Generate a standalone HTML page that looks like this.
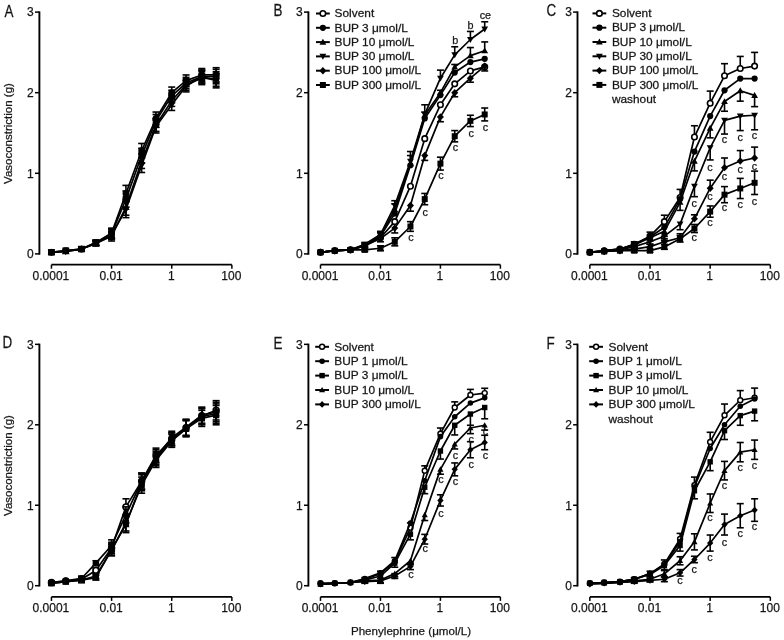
<!DOCTYPE html>
<html><head><meta charset="utf-8"><style>
html,body{margin:0;padding:0;background:#fff;}
svg{display:block;will-change:transform;}
text{font-family:"Liberation Sans",sans-serif;stroke:#222;stroke-width:0.25px;}
</style></head><body>
<svg width="784" height="640" viewBox="0 0 784 640">
<rect width="784" height="640" fill="#fff"/>
<path d="M39.4 11.4V254.7" stroke="#000" stroke-width="1.9" fill="none"/>
<path d="M35 253.9H39.4" stroke="#000" stroke-width="1.5"/>
<text x="33.8" y="258.2" font-size="12" text-anchor="end" fill="#111" >0</text>
<path d="M35 173.3H39.4" stroke="#000" stroke-width="1.5"/>
<text x="33.8" y="177.6" font-size="12" text-anchor="end" fill="#111" >1</text>
<path d="M35 92.7H39.4" stroke="#000" stroke-width="1.5"/>
<text x="33.8" y="97" font-size="12" text-anchor="end" fill="#111" >2</text>
<path d="M35 12.1H39.4" stroke="#000" stroke-width="1.5"/>
<text x="33.8" y="16.4" font-size="12" text-anchor="end" fill="#111" >3</text>
<path d="M51.45 264.7H231.87" stroke="#000" stroke-width="1.8"/>
<path d="M51.45 264.7V268.7" stroke="#000" stroke-width="1.5"/>
<text x="50.95" y="280.1" font-size="12" text-anchor="middle" fill="#111" >0.0001</text>
<path d="M111.59 264.7V268.7" stroke="#000" stroke-width="1.5"/>
<text x="111.09" y="280.1" font-size="12" text-anchor="middle" fill="#111" >0.01</text>
<path d="M171.73 264.7V268.7" stroke="#000" stroke-width="1.5"/>
<text x="171.23" y="280.1" font-size="12" text-anchor="middle" fill="#111" >1</text>
<path d="M231.87 264.7V268.7" stroke="#000" stroke-width="1.5"/>
<text x="231.37" y="280.1" font-size="12" text-anchor="middle" fill="#111" >100</text>
<text x="0" y="0" font-size="16" fill="#111" transform="translate(4.6 16.9) scale(0.84 1)">A</text>
<text x="0" y="0" font-size="11.5" text-anchor="middle" fill="#111" transform="translate(12.1 133.5) rotate(-90)">Vasoconstriction (g)</text>
<path d="M308.4 11.4V254.7" stroke="#000" stroke-width="1.9" fill="none"/>
<path d="M304 253.9H308.4" stroke="#000" stroke-width="1.5"/>
<text x="302.8" y="258.2" font-size="12" text-anchor="end" fill="#111" >0</text>
<path d="M304 173.3H308.4" stroke="#000" stroke-width="1.5"/>
<text x="302.8" y="177.6" font-size="12" text-anchor="end" fill="#111" >1</text>
<path d="M304 92.7H308.4" stroke="#000" stroke-width="1.5"/>
<text x="302.8" y="97" font-size="12" text-anchor="end" fill="#111" >2</text>
<path d="M304 12.1H308.4" stroke="#000" stroke-width="1.5"/>
<text x="302.8" y="16.4" font-size="12" text-anchor="end" fill="#111" >3</text>
<path d="M320.5 264.7H500.38" stroke="#000" stroke-width="1.8"/>
<path d="M320.5 264.7V268.7" stroke="#000" stroke-width="1.5"/>
<text x="320" y="280.1" font-size="12" text-anchor="middle" fill="#111" >0.0001</text>
<path d="M380.46 264.7V268.7" stroke="#000" stroke-width="1.5"/>
<text x="379.96" y="280.1" font-size="12" text-anchor="middle" fill="#111" >0.01</text>
<path d="M440.42 264.7V268.7" stroke="#000" stroke-width="1.5"/>
<text x="439.92" y="280.1" font-size="12" text-anchor="middle" fill="#111" >1</text>
<path d="M500.38 264.7V268.7" stroke="#000" stroke-width="1.5"/>
<text x="499.88" y="280.1" font-size="12" text-anchor="middle" fill="#111" >100</text>
<text x="0" y="0" font-size="16" fill="#111" transform="translate(273.6 15.9) scale(0.84 1)">B</text>
<path d="M577.5 11.4V254.7" stroke="#000" stroke-width="1.9" fill="none"/>
<path d="M573.1 253.9H577.5" stroke="#000" stroke-width="1.5"/>
<text x="571.9" y="258.2" font-size="12" text-anchor="end" fill="#111" >0</text>
<path d="M573.1 173.3H577.5" stroke="#000" stroke-width="1.5"/>
<text x="571.9" y="177.6" font-size="12" text-anchor="end" fill="#111" >1</text>
<path d="M573.1 92.7H577.5" stroke="#000" stroke-width="1.5"/>
<text x="571.9" y="97" font-size="12" text-anchor="end" fill="#111" >2</text>
<path d="M573.1 12.1H577.5" stroke="#000" stroke-width="1.5"/>
<text x="571.9" y="16.4" font-size="12" text-anchor="end" fill="#111" >3</text>
<path d="M589.85 264.7H770.33" stroke="#000" stroke-width="1.8"/>
<path d="M589.85 264.7V268.7" stroke="#000" stroke-width="1.5"/>
<text x="589.35" y="280.1" font-size="12" text-anchor="middle" fill="#111" >0.0001</text>
<path d="M650.01 264.7V268.7" stroke="#000" stroke-width="1.5"/>
<text x="649.51" y="280.1" font-size="12" text-anchor="middle" fill="#111" >0.01</text>
<path d="M710.17 264.7V268.7" stroke="#000" stroke-width="1.5"/>
<text x="709.67" y="280.1" font-size="12" text-anchor="middle" fill="#111" >1</text>
<path d="M770.33 264.7V268.7" stroke="#000" stroke-width="1.5"/>
<text x="769.83" y="280.1" font-size="12" text-anchor="middle" fill="#111" >100</text>
<text x="0" y="0" font-size="16" fill="#111" transform="translate(546.6 16) scale(0.84 1)">C</text>
<path d="M39.4 343.65V586.5" stroke="#000" stroke-width="1.9" fill="none"/>
<path d="M35 585.7H39.4" stroke="#000" stroke-width="1.5"/>
<text x="33.8" y="590" font-size="12" text-anchor="end" fill="#111" >0</text>
<path d="M35 505.25H39.4" stroke="#000" stroke-width="1.5"/>
<text x="33.8" y="509.55" font-size="12" text-anchor="end" fill="#111" >1</text>
<path d="M35 424.8H39.4" stroke="#000" stroke-width="1.5"/>
<text x="33.8" y="429.1" font-size="12" text-anchor="end" fill="#111" >2</text>
<path d="M35 344.35H39.4" stroke="#000" stroke-width="1.5"/>
<text x="33.8" y="348.65" font-size="12" text-anchor="end" fill="#111" >3</text>
<path d="M51.45 596.9H231.87" stroke="#000" stroke-width="1.8"/>
<path d="M51.45 596.9V600.9" stroke="#000" stroke-width="1.5"/>
<text x="50.95" y="612.3" font-size="12" text-anchor="middle" fill="#111" >0.0001</text>
<path d="M111.59 596.9V600.9" stroke="#000" stroke-width="1.5"/>
<text x="111.09" y="612.3" font-size="12" text-anchor="middle" fill="#111" >0.01</text>
<path d="M171.73 596.9V600.9" stroke="#000" stroke-width="1.5"/>
<text x="171.23" y="612.3" font-size="12" text-anchor="middle" fill="#111" >1</text>
<path d="M231.87 596.9V600.9" stroke="#000" stroke-width="1.5"/>
<text x="231.37" y="612.3" font-size="12" text-anchor="middle" fill="#111" >100</text>
<text x="0" y="0" font-size="16" fill="#111" transform="translate(2.5 348) scale(0.84 1)">D</text>
<text x="0" y="0" font-size="11.5" text-anchor="middle" fill="#111" transform="translate(12.1 465.53) rotate(-90)">Vasoconstriction (g)</text>
<path d="M308.4 343.65V586.5" stroke="#000" stroke-width="1.9" fill="none"/>
<path d="M304 585.7H308.4" stroke="#000" stroke-width="1.5"/>
<text x="302.8" y="590" font-size="12" text-anchor="end" fill="#111" >0</text>
<path d="M304 505.25H308.4" stroke="#000" stroke-width="1.5"/>
<text x="302.8" y="509.55" font-size="12" text-anchor="end" fill="#111" >1</text>
<path d="M304 424.8H308.4" stroke="#000" stroke-width="1.5"/>
<text x="302.8" y="429.1" font-size="12" text-anchor="end" fill="#111" >2</text>
<path d="M304 344.35H308.4" stroke="#000" stroke-width="1.5"/>
<text x="302.8" y="348.65" font-size="12" text-anchor="end" fill="#111" >3</text>
<path d="M320.5 596.9H500.38" stroke="#000" stroke-width="1.8"/>
<path d="M320.5 596.9V600.9" stroke="#000" stroke-width="1.5"/>
<text x="320" y="612.3" font-size="12" text-anchor="middle" fill="#111" >0.0001</text>
<path d="M380.46 596.9V600.9" stroke="#000" stroke-width="1.5"/>
<text x="379.96" y="612.3" font-size="12" text-anchor="middle" fill="#111" >0.01</text>
<path d="M440.42 596.9V600.9" stroke="#000" stroke-width="1.5"/>
<text x="439.92" y="612.3" font-size="12" text-anchor="middle" fill="#111" >1</text>
<path d="M500.38 596.9V600.9" stroke="#000" stroke-width="1.5"/>
<text x="499.88" y="612.3" font-size="12" text-anchor="middle" fill="#111" >100</text>
<text x="0" y="0" font-size="16" fill="#111" transform="translate(273.6 349) scale(0.84 1)">E</text>
<path d="M577.5 343.65V586.5" stroke="#000" stroke-width="1.9" fill="none"/>
<path d="M573.1 585.7H577.5" stroke="#000" stroke-width="1.5"/>
<text x="571.9" y="590" font-size="12" text-anchor="end" fill="#111" >0</text>
<path d="M573.1 505.25H577.5" stroke="#000" stroke-width="1.5"/>
<text x="571.9" y="509.55" font-size="12" text-anchor="end" fill="#111" >1</text>
<path d="M573.1 424.8H577.5" stroke="#000" stroke-width="1.5"/>
<text x="571.9" y="429.1" font-size="12" text-anchor="end" fill="#111" >2</text>
<path d="M573.1 344.35H577.5" stroke="#000" stroke-width="1.5"/>
<text x="571.9" y="348.65" font-size="12" text-anchor="end" fill="#111" >3</text>
<path d="M589.85 596.9H770.33" stroke="#000" stroke-width="1.8"/>
<path d="M589.85 596.9V600.9" stroke="#000" stroke-width="1.5"/>
<text x="589.35" y="612.3" font-size="12" text-anchor="middle" fill="#111" >0.0001</text>
<path d="M650.01 596.9V600.9" stroke="#000" stroke-width="1.5"/>
<text x="649.51" y="612.3" font-size="12" text-anchor="middle" fill="#111" >0.01</text>
<path d="M710.17 596.9V600.9" stroke="#000" stroke-width="1.5"/>
<text x="709.67" y="612.3" font-size="12" text-anchor="middle" fill="#111" >1</text>
<path d="M770.33 596.9V600.9" stroke="#000" stroke-width="1.5"/>
<text x="769.83" y="612.3" font-size="12" text-anchor="middle" fill="#111" >100</text>
<text x="0" y="0" font-size="16" fill="#111" transform="translate(546.4 349) scale(0.84 1)">F</text>
<path d="M51.45 252.29 L65.8 251.48 L81.52 249.06 L95.87 243.42 L111.59 234.56 L125.94 209.57 L141.66 165.24 L156.01 126.55 L171.73 104.79 L186.08 86.25 L201.8 76.58 L216.15 80.61" stroke="#000" stroke-width="1.7" fill="none" stroke-linejoin="round"/>
<path d="M81.52 247.45V250.68" stroke="#000" stroke-width="1.6"/>
<path d="M78.02 247.45H85.02" stroke="#000" stroke-width="1.6"/>
<path d="M78.02 250.68H85.02" stroke="#000" stroke-width="1.6"/>
<path d="M95.87 241V245.84" stroke="#000" stroke-width="1.6"/>
<path d="M92.37 241H99.37" stroke="#000" stroke-width="1.6"/>
<path d="M92.37 245.84H99.37" stroke="#000" stroke-width="1.6"/>
<path d="M111.59 229.72V239.39" stroke="#000" stroke-width="1.6"/>
<path d="M108.09 229.72H115.09" stroke="#000" stroke-width="1.6"/>
<path d="M108.09 239.39H115.09" stroke="#000" stroke-width="1.6"/>
<path d="M125.94 201.51V217.63" stroke="#000" stroke-width="1.6"/>
<path d="M122.44 201.51H129.44" stroke="#000" stroke-width="1.6"/>
<path d="M122.44 217.63H129.44" stroke="#000" stroke-width="1.6"/>
<path d="M141.66 157.99V172.49" stroke="#000" stroke-width="1.6"/>
<path d="M138.16 157.99H145.16" stroke="#000" stroke-width="1.6"/>
<path d="M138.16 172.49H145.16" stroke="#000" stroke-width="1.6"/>
<path d="M156.01 120.1V133" stroke="#000" stroke-width="1.6"/>
<path d="M152.51 120.1H159.51" stroke="#000" stroke-width="1.6"/>
<path d="M152.51 133H159.51" stroke="#000" stroke-width="1.6"/>
<path d="M171.73 99.15V110.43" stroke="#000" stroke-width="1.6"/>
<path d="M168.23 99.15H175.23" stroke="#000" stroke-width="1.6"/>
<path d="M168.23 110.43H175.23" stroke="#000" stroke-width="1.6"/>
<path d="M186.08 80.61V91.89" stroke="#000" stroke-width="1.6"/>
<path d="M182.58 80.61H189.58" stroke="#000" stroke-width="1.6"/>
<path d="M182.58 91.89H189.58" stroke="#000" stroke-width="1.6"/>
<path d="M201.8 70.13V83.03" stroke="#000" stroke-width="1.6"/>
<path d="M198.3 70.13H205.3" stroke="#000" stroke-width="1.6"/>
<path d="M198.3 83.03H205.3" stroke="#000" stroke-width="1.6"/>
<path d="M216.15 73.36V87.86" stroke="#000" stroke-width="1.6"/>
<path d="M212.65 73.36H219.65" stroke="#000" stroke-width="1.6"/>
<path d="M212.65 87.86H219.65" stroke="#000" stroke-width="1.6"/>
<path d="M51.45 256.03L55.19 249.48L47.71 249.48Z" fill="#000"/>
<path d="M65.8 255.22L69.54 248.68L62.06 248.68Z" fill="#000"/>
<path d="M81.52 252.8L85.26 246.26L77.78 246.26Z" fill="#000"/>
<path d="M95.87 247.16L99.61 240.62L92.13 240.62Z" fill="#000"/>
<path d="M111.59 238.3L115.33 231.75L107.85 231.75Z" fill="#000"/>
<path d="M125.94 213.31L129.68 206.76L122.2 206.76Z" fill="#000"/>
<path d="M141.66 168.98L145.4 162.44L137.92 162.44Z" fill="#000"/>
<path d="M156.01 130.29L159.75 123.75L152.27 123.75Z" fill="#000"/>
<path d="M171.73 108.53L175.47 101.99L167.99 101.99Z" fill="#000"/>
<path d="M186.08 89.99L189.82 83.45L182.34 83.45Z" fill="#000"/>
<path d="M201.8 80.32L205.54 73.78L198.06 73.78Z" fill="#000"/>
<path d="M216.15 84.35L219.89 77.81L212.41 77.81Z" fill="#000"/>
<path d="M51.45 252.29 L65.8 251.48 L81.52 249.06 L95.87 243.42 L111.59 236.17 L125.94 207.15 L141.66 161.21 L156.01 124.94 L171.73 100.76 L186.08 84.64 L201.8 78.19 L216.15 79" stroke="#000" stroke-width="1.7" fill="none" stroke-linejoin="round"/>
<path d="M81.52 247.45V250.68" stroke="#000" stroke-width="1.6"/>
<path d="M78.02 247.45H85.02" stroke="#000" stroke-width="1.6"/>
<path d="M78.02 250.68H85.02" stroke="#000" stroke-width="1.6"/>
<path d="M95.87 241V245.84" stroke="#000" stroke-width="1.6"/>
<path d="M92.37 241H99.37" stroke="#000" stroke-width="1.6"/>
<path d="M92.37 245.84H99.37" stroke="#000" stroke-width="1.6"/>
<path d="M111.59 231.33V241" stroke="#000" stroke-width="1.6"/>
<path d="M108.09 231.33H115.09" stroke="#000" stroke-width="1.6"/>
<path d="M108.09 241H115.09" stroke="#000" stroke-width="1.6"/>
<path d="M125.94 199.09V215.21" stroke="#000" stroke-width="1.6"/>
<path d="M122.44 199.09H129.44" stroke="#000" stroke-width="1.6"/>
<path d="M122.44 215.21H129.44" stroke="#000" stroke-width="1.6"/>
<path d="M141.66 153.96V168.46" stroke="#000" stroke-width="1.6"/>
<path d="M138.16 153.96H145.16" stroke="#000" stroke-width="1.6"/>
<path d="M138.16 168.46H145.16" stroke="#000" stroke-width="1.6"/>
<path d="M156.01 118.49V131.39" stroke="#000" stroke-width="1.6"/>
<path d="M152.51 118.49H159.51" stroke="#000" stroke-width="1.6"/>
<path d="M152.51 131.39H159.51" stroke="#000" stroke-width="1.6"/>
<path d="M171.73 95.12V106.4" stroke="#000" stroke-width="1.6"/>
<path d="M168.23 95.12H175.23" stroke="#000" stroke-width="1.6"/>
<path d="M168.23 106.4H175.23" stroke="#000" stroke-width="1.6"/>
<path d="M186.08 79V90.28" stroke="#000" stroke-width="1.6"/>
<path d="M182.58 79H189.58" stroke="#000" stroke-width="1.6"/>
<path d="M182.58 90.28H189.58" stroke="#000" stroke-width="1.6"/>
<path d="M201.8 71.74V84.64" stroke="#000" stroke-width="1.6"/>
<path d="M198.3 71.74H205.3" stroke="#000" stroke-width="1.6"/>
<path d="M198.3 84.64H205.3" stroke="#000" stroke-width="1.6"/>
<path d="M216.15 71.74V86.25" stroke="#000" stroke-width="1.6"/>
<path d="M212.65 71.74H219.65" stroke="#000" stroke-width="1.6"/>
<path d="M212.65 86.25H219.65" stroke="#000" stroke-width="1.6"/>
<path d="M51.45 248.55L55.19 255.09L47.71 255.09Z" fill="#000"/>
<path d="M65.8 247.74L69.54 254.29L62.06 254.29Z" fill="#000"/>
<path d="M81.52 245.32L85.26 251.87L77.78 251.87Z" fill="#000"/>
<path d="M95.87 239.68L99.61 246.23L92.13 246.23Z" fill="#000"/>
<path d="M111.59 232.43L115.33 238.97L107.85 238.97Z" fill="#000"/>
<path d="M125.94 203.41L129.68 209.96L122.2 209.96Z" fill="#000"/>
<path d="M141.66 157.47L145.4 164.02L137.92 164.02Z" fill="#000"/>
<path d="M156.01 121.2L159.75 127.75L152.27 127.75Z" fill="#000"/>
<path d="M171.73 97.02L175.47 103.57L167.99 103.57Z" fill="#000"/>
<path d="M186.08 80.9L189.82 87.45L182.34 87.45Z" fill="#000"/>
<path d="M201.8 74.45L205.54 81L198.06 81Z" fill="#000"/>
<path d="M216.15 75.26L219.89 81.8L212.41 81.8Z" fill="#000"/>
<path d="M51.45 252.29 L65.8 250.68 L81.52 249.06 L95.87 242.62 L111.59 233.75 L125.94 199.09 L141.66 155.57 L156.01 120.91 L171.73 95.92 L186.08 83.03 L201.8 76.58 L216.15 76.58" stroke="#000" stroke-width="1.7" fill="none" stroke-linejoin="round"/>
<path d="M81.52 247.45V250.68" stroke="#000" stroke-width="1.6"/>
<path d="M78.02 247.45H85.02" stroke="#000" stroke-width="1.6"/>
<path d="M78.02 250.68H85.02" stroke="#000" stroke-width="1.6"/>
<path d="M95.87 240.2V245.03" stroke="#000" stroke-width="1.6"/>
<path d="M92.37 240.2H99.37" stroke="#000" stroke-width="1.6"/>
<path d="M92.37 245.03H99.37" stroke="#000" stroke-width="1.6"/>
<path d="M111.59 228.91V238.59" stroke="#000" stroke-width="1.6"/>
<path d="M108.09 228.91H115.09" stroke="#000" stroke-width="1.6"/>
<path d="M108.09 238.59H115.09" stroke="#000" stroke-width="1.6"/>
<path d="M125.94 191.03V207.15" stroke="#000" stroke-width="1.6"/>
<path d="M122.44 191.03H129.44" stroke="#000" stroke-width="1.6"/>
<path d="M122.44 207.15H129.44" stroke="#000" stroke-width="1.6"/>
<path d="M141.66 148.31V162.82" stroke="#000" stroke-width="1.6"/>
<path d="M138.16 148.31H145.16" stroke="#000" stroke-width="1.6"/>
<path d="M138.16 162.82H145.16" stroke="#000" stroke-width="1.6"/>
<path d="M156.01 114.46V127.36" stroke="#000" stroke-width="1.6"/>
<path d="M152.51 114.46H159.51" stroke="#000" stroke-width="1.6"/>
<path d="M152.51 127.36H159.51" stroke="#000" stroke-width="1.6"/>
<path d="M171.73 90.28V101.57" stroke="#000" stroke-width="1.6"/>
<path d="M168.23 90.28H175.23" stroke="#000" stroke-width="1.6"/>
<path d="M168.23 101.57H175.23" stroke="#000" stroke-width="1.6"/>
<path d="M186.08 77.39V88.67" stroke="#000" stroke-width="1.6"/>
<path d="M182.58 77.39H189.58" stroke="#000" stroke-width="1.6"/>
<path d="M182.58 88.67H189.58" stroke="#000" stroke-width="1.6"/>
<path d="M201.8 70.13V83.03" stroke="#000" stroke-width="1.6"/>
<path d="M198.3 70.13H205.3" stroke="#000" stroke-width="1.6"/>
<path d="M198.3 83.03H205.3" stroke="#000" stroke-width="1.6"/>
<path d="M216.15 69.33V83.83" stroke="#000" stroke-width="1.6"/>
<path d="M212.65 69.33H219.65" stroke="#000" stroke-width="1.6"/>
<path d="M212.65 83.83H219.65" stroke="#000" stroke-width="1.6"/>
<rect x="48.15" y="248.99" width="6.6" height="6.6" fill="#000"/>
<rect x="62.5" y="247.38" width="6.6" height="6.6" fill="#000"/>
<rect x="78.22" y="245.76" width="6.6" height="6.6" fill="#000"/>
<rect x="92.57" y="239.32" width="6.6" height="6.6" fill="#000"/>
<rect x="108.29" y="230.45" width="6.6" height="6.6" fill="#000"/>
<rect x="122.64" y="195.79" width="6.6" height="6.6" fill="#000"/>
<rect x="138.36" y="152.27" width="6.6" height="6.6" fill="#000"/>
<rect x="152.71" y="117.61" width="6.6" height="6.6" fill="#000"/>
<rect x="168.43" y="92.62" width="6.6" height="6.6" fill="#000"/>
<rect x="182.78" y="79.73" width="6.6" height="6.6" fill="#000"/>
<rect x="198.5" y="73.28" width="6.6" height="6.6" fill="#000"/>
<rect x="212.85" y="73.28" width="6.6" height="6.6" fill="#000"/>
<path d="M51.45 252.29 L65.8 250.68 L81.52 249.06 L95.87 242.62 L111.59 232.94 L125.94 193.45 L141.66 150.73 L156.01 118.49 L171.73 92.7 L186.08 80.61 L201.8 74.97 L216.15 74.97" stroke="#000" stroke-width="1.7" fill="none" stroke-linejoin="round"/>
<path d="M81.52 247.45V250.68" stroke="#000" stroke-width="1.6"/>
<path d="M78.02 247.45H85.02" stroke="#000" stroke-width="1.6"/>
<path d="M78.02 250.68H85.02" stroke="#000" stroke-width="1.6"/>
<path d="M95.87 240.2V245.03" stroke="#000" stroke-width="1.6"/>
<path d="M92.37 240.2H99.37" stroke="#000" stroke-width="1.6"/>
<path d="M92.37 245.03H99.37" stroke="#000" stroke-width="1.6"/>
<path d="M111.59 228.11V237.78" stroke="#000" stroke-width="1.6"/>
<path d="M108.09 228.11H115.09" stroke="#000" stroke-width="1.6"/>
<path d="M108.09 237.78H115.09" stroke="#000" stroke-width="1.6"/>
<path d="M125.94 185.39V201.51" stroke="#000" stroke-width="1.6"/>
<path d="M122.44 185.39H129.44" stroke="#000" stroke-width="1.6"/>
<path d="M122.44 201.51H129.44" stroke="#000" stroke-width="1.6"/>
<path d="M141.66 143.48V157.99" stroke="#000" stroke-width="1.6"/>
<path d="M138.16 143.48H145.16" stroke="#000" stroke-width="1.6"/>
<path d="M138.16 157.99H145.16" stroke="#000" stroke-width="1.6"/>
<path d="M156.01 112.04V124.94" stroke="#000" stroke-width="1.6"/>
<path d="M152.51 112.04H159.51" stroke="#000" stroke-width="1.6"/>
<path d="M152.51 124.94H159.51" stroke="#000" stroke-width="1.6"/>
<path d="M171.73 87.06V98.34" stroke="#000" stroke-width="1.6"/>
<path d="M168.23 87.06H175.23" stroke="#000" stroke-width="1.6"/>
<path d="M168.23 98.34H175.23" stroke="#000" stroke-width="1.6"/>
<path d="M186.08 74.97V86.25" stroke="#000" stroke-width="1.6"/>
<path d="M182.58 74.97H189.58" stroke="#000" stroke-width="1.6"/>
<path d="M182.58 86.25H189.58" stroke="#000" stroke-width="1.6"/>
<path d="M201.8 68.52V81.42" stroke="#000" stroke-width="1.6"/>
<path d="M198.3 68.52H205.3" stroke="#000" stroke-width="1.6"/>
<path d="M198.3 81.42H205.3" stroke="#000" stroke-width="1.6"/>
<path d="M216.15 67.71V82.22" stroke="#000" stroke-width="1.6"/>
<path d="M212.65 67.71H219.65" stroke="#000" stroke-width="1.6"/>
<path d="M212.65 82.22H219.65" stroke="#000" stroke-width="1.6"/>
<circle cx="51.45" cy="252.29" r="3.41" fill="#000"/>
<circle cx="65.8" cy="250.68" r="3.41" fill="#000"/>
<circle cx="81.52" cy="249.06" r="3.41" fill="#000"/>
<circle cx="95.87" cy="242.62" r="3.41" fill="#000"/>
<circle cx="111.59" cy="232.94" r="3.41" fill="#000"/>
<circle cx="125.94" cy="193.45" r="3.41" fill="#000"/>
<circle cx="141.66" cy="150.73" r="3.41" fill="#000"/>
<circle cx="156.01" cy="118.49" r="3.41" fill="#000"/>
<circle cx="171.73" cy="92.7" r="3.41" fill="#000"/>
<circle cx="186.08" cy="80.61" r="3.41" fill="#000"/>
<circle cx="201.8" cy="74.97" r="3.41" fill="#000"/>
<circle cx="216.15" cy="74.97" r="3.41" fill="#000"/>
<path d="M320.5 252.29 L334.8 250.68 L350.48 249.87 L364.78 245.84 L380.46 237.78 L394.76 221.66 L410.44 186.2 L424.74 138.64 L440.42 104.79 L454.72 83.83 L470.4 70.94 L484.7 66.91" stroke="#000" stroke-width="1.7" fill="none" stroke-linejoin="round"/>
<circle cx="320.5" cy="252.29" r="2.75" fill="#fff" stroke="#000" stroke-width="1.6"/>
<circle cx="334.8" cy="250.68" r="2.75" fill="#fff" stroke="#000" stroke-width="1.6"/>
<circle cx="350.48" cy="249.87" r="2.75" fill="#fff" stroke="#000" stroke-width="1.6"/>
<circle cx="364.78" cy="245.84" r="2.75" fill="#fff" stroke="#000" stroke-width="1.6"/>
<circle cx="380.46" cy="237.78" r="2.75" fill="#fff" stroke="#000" stroke-width="1.6"/>
<circle cx="394.76" cy="221.66" r="2.75" fill="#fff" stroke="#000" stroke-width="1.6"/>
<circle cx="410.44" cy="186.2" r="2.75" fill="#fff" stroke="#000" stroke-width="1.6"/>
<circle cx="424.74" cy="138.64" r="2.75" fill="#fff" stroke="#000" stroke-width="1.6"/>
<circle cx="440.42" cy="104.79" r="2.75" fill="#fff" stroke="#000" stroke-width="1.6"/>
<circle cx="454.72" cy="83.83" r="2.75" fill="#fff" stroke="#000" stroke-width="1.6"/>
<circle cx="470.4" cy="70.94" r="2.75" fill="#fff" stroke="#000" stroke-width="1.6"/>
<circle cx="484.7" cy="66.91" r="2.75" fill="#fff" stroke="#000" stroke-width="1.6"/>
<path d="M320.5 252.29 L334.8 250.68 L350.48 249.87 L364.78 245.03 L380.46 236.17 L394.76 213.6 L410.44 165.24 L424.74 118.49 L440.42 95.12 L454.72 72.55 L470.4 62.07 L484.7 58.85" stroke="#000" stroke-width="1.7" fill="none" stroke-linejoin="round"/>
<circle cx="320.5" cy="252.29" r="3.1" fill="#000"/>
<circle cx="334.8" cy="250.68" r="3.1" fill="#000"/>
<circle cx="350.48" cy="249.87" r="3.1" fill="#000"/>
<circle cx="364.78" cy="245.03" r="3.1" fill="#000"/>
<circle cx="380.46" cy="236.17" r="3.1" fill="#000"/>
<circle cx="394.76" cy="213.6" r="3.1" fill="#000"/>
<circle cx="410.44" cy="165.24" r="3.1" fill="#000"/>
<circle cx="424.74" cy="118.49" r="3.1" fill="#000"/>
<circle cx="440.42" cy="95.12" r="3.1" fill="#000"/>
<circle cx="454.72" cy="72.55" r="3.1" fill="#000"/>
<circle cx="470.4" cy="62.07" r="3.1" fill="#000"/>
<circle cx="484.7" cy="58.85" r="3.1" fill="#000"/>
<path d="M320.5 252.29 L334.8 250.68 L350.48 249.87 L364.78 245.03 L380.46 236.17 L394.76 209.57 L410.44 163.63 L424.74 115.27 L440.42 92.7 L454.72 66.91 L470.4 55.62 L484.7 50.79" stroke="#000" stroke-width="1.7" fill="none" stroke-linejoin="round"/>
<path d="M364.78 243.42V245.03" stroke="#000" stroke-width="1.6"/>
<path d="M361.28 243.42H368.28" stroke="#000" stroke-width="1.6"/>
<path d="M380.46 232.94V236.17" stroke="#000" stroke-width="1.6"/>
<path d="M376.96 232.94H383.96" stroke="#000" stroke-width="1.6"/>
<path d="M394.76 203.93V209.57" stroke="#000" stroke-width="1.6"/>
<path d="M391.26 203.93H398.26" stroke="#000" stroke-width="1.6"/>
<path d="M410.44 155.57V163.63" stroke="#000" stroke-width="1.6"/>
<path d="M406.94 155.57H413.94" stroke="#000" stroke-width="1.6"/>
<path d="M424.74 112.04V115.27" stroke="#000" stroke-width="1.6"/>
<path d="M421.24 112.04H428.24" stroke="#000" stroke-width="1.6"/>
<path d="M440.42 90.28V92.7" stroke="#000" stroke-width="1.6"/>
<path d="M436.92 90.28H443.92" stroke="#000" stroke-width="1.6"/>
<path d="M454.72 64.49V66.91" stroke="#000" stroke-width="1.6"/>
<path d="M451.22 64.49H458.22" stroke="#000" stroke-width="1.6"/>
<path d="M470.4 47.56V55.62" stroke="#000" stroke-width="1.6"/>
<path d="M466.9 47.56H473.9" stroke="#000" stroke-width="1.6"/>
<path d="M484.7 41.92V50.79" stroke="#000" stroke-width="1.6"/>
<path d="M481.2 41.92H488.2" stroke="#000" stroke-width="1.6"/>
<path d="M320.5 248.89L323.9 254.84L317.1 254.84Z" fill="#000"/>
<path d="M334.8 247.28L338.2 253.23L331.4 253.23Z" fill="#000"/>
<path d="M350.48 246.47L353.88 252.42L347.08 252.42Z" fill="#000"/>
<path d="M364.78 241.63L368.18 247.58L361.38 247.58Z" fill="#000"/>
<path d="M380.46 232.77L383.86 238.72L377.06 238.72Z" fill="#000"/>
<path d="M394.76 206.17L398.16 212.12L391.36 212.12Z" fill="#000"/>
<path d="M410.44 160.23L413.84 166.18L407.04 166.18Z" fill="#000"/>
<path d="M424.74 111.87L428.14 117.82L421.34 117.82Z" fill="#000"/>
<path d="M440.42 89.3L443.82 95.25L437.02 95.25Z" fill="#000"/>
<path d="M454.72 63.51L458.12 69.46L451.32 69.46Z" fill="#000"/>
<path d="M470.4 52.22L473.8 58.17L467 58.17Z" fill="#000"/>
<path d="M484.7 47.39L488.1 53.34L481.3 53.34Z" fill="#000"/>
<path d="M320.5 252.29 L334.8 250.68 L350.48 249.87 L364.78 244.23 L380.46 234.56 L394.76 205.54 L410.44 161.21 L424.74 114.46 L440.42 78.19 L454.72 54.82 L470.4 39.5 L484.7 29.03" stroke="#000" stroke-width="1.7" fill="none" stroke-linejoin="round"/>
<path d="M364.78 242.62V244.23" stroke="#000" stroke-width="1.6"/>
<path d="M361.28 242.62H368.28" stroke="#000" stroke-width="1.6"/>
<path d="M380.46 231.33V234.56" stroke="#000" stroke-width="1.6"/>
<path d="M376.96 231.33H383.96" stroke="#000" stroke-width="1.6"/>
<path d="M394.76 200.7V205.54" stroke="#000" stroke-width="1.6"/>
<path d="M391.26 200.7H398.26" stroke="#000" stroke-width="1.6"/>
<path d="M410.44 151.54V161.21" stroke="#000" stroke-width="1.6"/>
<path d="M406.94 151.54H413.94" stroke="#000" stroke-width="1.6"/>
<path d="M424.74 104.79V114.46" stroke="#000" stroke-width="1.6"/>
<path d="M421.24 104.79H428.24" stroke="#000" stroke-width="1.6"/>
<path d="M440.42 70.13V78.19" stroke="#000" stroke-width="1.6"/>
<path d="M436.92 70.13H443.92" stroke="#000" stroke-width="1.6"/>
<path d="M454.72 46.76V54.82" stroke="#000" stroke-width="1.6"/>
<path d="M451.22 46.76H458.22" stroke="#000" stroke-width="1.6"/>
<path d="M470.4 31.44V39.5" stroke="#000" stroke-width="1.6"/>
<path d="M466.9 31.44H473.9" stroke="#000" stroke-width="1.6"/>
<path d="M484.7 21.77V29.03" stroke="#000" stroke-width="1.6"/>
<path d="M481.2 21.77H488.2" stroke="#000" stroke-width="1.6"/>
<path d="M320.5 255.69L323.9 249.74L317.1 249.74Z" fill="#000"/>
<path d="M334.8 254.08L338.2 248.13L331.4 248.13Z" fill="#000"/>
<path d="M350.48 253.27L353.88 247.32L347.08 247.32Z" fill="#000"/>
<path d="M364.78 247.63L368.18 241.68L361.38 241.68Z" fill="#000"/>
<path d="M380.46 237.96L383.86 232.01L377.06 232.01Z" fill="#000"/>
<path d="M394.76 208.94L398.16 202.99L391.36 202.99Z" fill="#000"/>
<path d="M410.44 164.61L413.84 158.66L407.04 158.66Z" fill="#000"/>
<path d="M424.74 117.86L428.14 111.91L421.34 111.91Z" fill="#000"/>
<path d="M440.42 81.59L443.82 75.64L437.02 75.64Z" fill="#000"/>
<path d="M454.72 58.22L458.12 52.27L451.32 52.27Z" fill="#000"/>
<path d="M470.4 42.9L473.8 36.95L467 36.95Z" fill="#000"/>
<path d="M484.7 32.43L488.1 26.48L481.3 26.48Z" fill="#000"/>
<path d="M320.5 252.29 L334.8 250.68 L350.48 249.87 L364.78 245.84 L380.46 238.59 L394.76 228.11 L410.44 205.54 L424.74 155.57 L440.42 116.88 L454.72 92.7 L470.4 78.19 L484.7 66.1" stroke="#000" stroke-width="1.7" fill="none" stroke-linejoin="round"/>
<path d="M364.78 245.84V247.45" stroke="#000" stroke-width="1.6"/>
<path d="M361.28 247.45H368.28" stroke="#000" stroke-width="1.6"/>
<path d="M380.46 238.59V241.81" stroke="#000" stroke-width="1.6"/>
<path d="M376.96 241.81H383.96" stroke="#000" stroke-width="1.6"/>
<path d="M394.76 228.11V232.94" stroke="#000" stroke-width="1.6"/>
<path d="M391.26 232.94H398.26" stroke="#000" stroke-width="1.6"/>
<path d="M410.44 205.54V211.18" stroke="#000" stroke-width="1.6"/>
<path d="M406.94 211.18H413.94" stroke="#000" stroke-width="1.6"/>
<path d="M424.74 155.57V160.4" stroke="#000" stroke-width="1.6"/>
<path d="M421.24 160.4H428.24" stroke="#000" stroke-width="1.6"/>
<path d="M440.42 116.88V121.72" stroke="#000" stroke-width="1.6"/>
<path d="M436.92 121.72H443.92" stroke="#000" stroke-width="1.6"/>
<path d="M454.72 92.7V96.73" stroke="#000" stroke-width="1.6"/>
<path d="M451.22 96.73H458.22" stroke="#000" stroke-width="1.6"/>
<path d="M470.4 78.19V82.22" stroke="#000" stroke-width="1.6"/>
<path d="M466.9 82.22H473.9" stroke="#000" stroke-width="1.6"/>
<path d="M484.7 66.1V70.94" stroke="#000" stroke-width="1.6"/>
<path d="M481.2 70.94H488.2" stroke="#000" stroke-width="1.6"/>
<path d="M320.5 248.59L324.01 252.29L320.5 255.99L316.99 252.29Z" fill="#000"/>
<path d="M334.8 246.98L338.32 250.68L334.8 254.38L331.29 250.68Z" fill="#000"/>
<path d="M350.48 246.17L354 249.87L350.48 253.57L346.97 249.87Z" fill="#000"/>
<path d="M364.78 242.14L368.3 245.84L364.78 249.54L361.27 245.84Z" fill="#000"/>
<path d="M380.46 234.89L383.97 238.59L380.46 242.29L376.94 238.59Z" fill="#000"/>
<path d="M394.76 224.41L398.28 228.11L394.76 231.81L391.25 228.11Z" fill="#000"/>
<path d="M410.44 201.84L413.95 205.54L410.44 209.24L406.93 205.54Z" fill="#000"/>
<path d="M424.74 151.87L428.26 155.57L424.74 159.27L421.23 155.57Z" fill="#000"/>
<path d="M440.42 113.18L443.94 116.88L440.42 120.58L436.91 116.88Z" fill="#000"/>
<path d="M454.72 89L458.24 92.7L454.72 96.4L451.21 92.7Z" fill="#000"/>
<path d="M470.4 74.49L473.91 78.19L470.4 81.89L466.88 78.19Z" fill="#000"/>
<path d="M484.7 62.4L488.22 66.1L484.7 69.8L481.19 66.1Z" fill="#000"/>
<path d="M320.5 252.29 L334.8 250.68 L350.48 249.87 L364.78 249.87 L380.46 248.26 L394.76 241.81 L410.44 226.5 L424.74 199.09 L440.42 163.63 L454.72 136.22 L470.4 120.91 L484.7 114.46" stroke="#000" stroke-width="1.7" fill="none" stroke-linejoin="round"/>
<path d="M364.78 248.26V251.48" stroke="#000" stroke-width="1.6"/>
<path d="M361.28 248.26H368.28" stroke="#000" stroke-width="1.6"/>
<path d="M361.28 251.48H368.28" stroke="#000" stroke-width="1.6"/>
<path d="M380.46 245.84V250.68" stroke="#000" stroke-width="1.6"/>
<path d="M376.96 245.84H383.96" stroke="#000" stroke-width="1.6"/>
<path d="M376.96 250.68H383.96" stroke="#000" stroke-width="1.6"/>
<path d="M394.76 237.78V245.84" stroke="#000" stroke-width="1.6"/>
<path d="M391.26 237.78H398.26" stroke="#000" stroke-width="1.6"/>
<path d="M391.26 245.84H398.26" stroke="#000" stroke-width="1.6"/>
<path d="M410.44 221.66V231.33" stroke="#000" stroke-width="1.6"/>
<path d="M406.94 221.66H413.94" stroke="#000" stroke-width="1.6"/>
<path d="M406.94 231.33H413.94" stroke="#000" stroke-width="1.6"/>
<path d="M424.74 193.45V204.73" stroke="#000" stroke-width="1.6"/>
<path d="M421.24 193.45H428.24" stroke="#000" stroke-width="1.6"/>
<path d="M421.24 204.73H428.24" stroke="#000" stroke-width="1.6"/>
<path d="M440.42 157.18V170.08" stroke="#000" stroke-width="1.6"/>
<path d="M436.92 157.18H443.92" stroke="#000" stroke-width="1.6"/>
<path d="M436.92 170.08H443.92" stroke="#000" stroke-width="1.6"/>
<path d="M454.72 130.58V141.87" stroke="#000" stroke-width="1.6"/>
<path d="M451.22 130.58H458.22" stroke="#000" stroke-width="1.6"/>
<path d="M451.22 141.87H458.22" stroke="#000" stroke-width="1.6"/>
<path d="M470.4 115.27V126.55" stroke="#000" stroke-width="1.6"/>
<path d="M466.9 115.27H473.9" stroke="#000" stroke-width="1.6"/>
<path d="M466.9 126.55H473.9" stroke="#000" stroke-width="1.6"/>
<path d="M484.7 108.01V120.91" stroke="#000" stroke-width="1.6"/>
<path d="M481.2 108.01H488.2" stroke="#000" stroke-width="1.6"/>
<path d="M481.2 120.91H488.2" stroke="#000" stroke-width="1.6"/>
<rect x="317.5" y="249.29" width="6" height="6" fill="#000"/>
<rect x="331.8" y="247.68" width="6" height="6" fill="#000"/>
<rect x="347.48" y="246.87" width="6" height="6" fill="#000"/>
<rect x="361.78" y="246.87" width="6" height="6" fill="#000"/>
<rect x="377.46" y="245.26" width="6" height="6" fill="#000"/>
<rect x="391.76" y="238.81" width="6" height="6" fill="#000"/>
<rect x="407.44" y="223.5" width="6" height="6" fill="#000"/>
<rect x="421.74" y="196.09" width="6" height="6" fill="#000"/>
<rect x="437.42" y="160.63" width="6" height="6" fill="#000"/>
<rect x="451.72" y="133.22" width="6" height="6" fill="#000"/>
<rect x="467.4" y="117.91" width="6" height="6" fill="#000"/>
<rect x="481.7" y="111.46" width="6" height="6" fill="#000"/>
<path d="M316 13.5H329.8" stroke="#000" stroke-width="2"/>
<circle cx="322.9" cy="13.5" r="2.75" fill="#fff" stroke="#000" stroke-width="1.6"/>
<text x="0" y="0" font-size="11" fill="#111" transform="translate(334.6 17.2) scale(1.08 1)">Solvent</text>
<path d="M316 27.8H329.8" stroke="#000" stroke-width="2"/>
<circle cx="322.9" cy="27.8" r="3.1" fill="#000"/>
<text x="0" y="0" font-size="11" fill="#111" transform="translate(334.6 31.5) scale(1.08 1)">BUP 3 μmol/L</text>
<path d="M316 42.1H329.8" stroke="#000" stroke-width="2"/>
<path d="M322.9 38.7L326.3 44.65L319.5 44.65Z" fill="#000"/>
<text x="0" y="0" font-size="11" fill="#111" transform="translate(334.6 45.8) scale(1.08 1)">BUP 10 μmol/L</text>
<path d="M316 56.4H329.8" stroke="#000" stroke-width="2"/>
<path d="M322.9 59.8L326.3 53.85L319.5 53.85Z" fill="#000"/>
<text x="0" y="0" font-size="11" fill="#111" transform="translate(334.6 60.1) scale(1.08 1)">BUP 30 μmol/L</text>
<path d="M316 70.7H329.8" stroke="#000" stroke-width="2"/>
<path d="M322.9 67L326.41 70.7L322.9 74.4L319.38 70.7Z" fill="#000"/>
<text x="0" y="0" font-size="11" fill="#111" transform="translate(334.6 74.4) scale(1.08 1)">BUP 100 μmol/L</text>
<path d="M316 85H329.8" stroke="#000" stroke-width="2"/>
<rect x="319.9" y="82" width="6" height="6" fill="#000"/>
<text x="0" y="0" font-size="11" fill="#111" transform="translate(334.6 88.7) scale(1.08 1)">BUP 300 μmol/L</text>
<text x="455.2" y="43.5" font-size="10.8" text-anchor="middle" fill="#111" >b</text>
<text x="470.6" y="29" font-size="10.8" text-anchor="middle" fill="#111" >b</text>
<text x="485.4" y="19" font-size="10.8" text-anchor="middle" fill="#111" >ce</text>
<text x="410.9" y="241" font-size="10.8" text-anchor="middle" fill="#111" >c</text>
<text x="425.3" y="215.5" font-size="10.8" text-anchor="middle" fill="#111" >c</text>
<text x="441" y="179" font-size="10.8" text-anchor="middle" fill="#111" >c</text>
<text x="455.4" y="151.2" font-size="10.8" text-anchor="middle" fill="#111" >c</text>
<text x="471.1" y="137.4" font-size="10.8" text-anchor="middle" fill="#111" >c</text>
<text x="485.5" y="130.5" font-size="10.8" text-anchor="middle" fill="#111" >c</text>
<path d="M589.85 252.29 L604.2 250.68 L619.93 249.06 L634.28 244.23 L650.01 236.17 L664.36 221.66 L680.09 197.48 L694.44 137.03 L710.17 103.18 L724.52 75.77 L740.25 68.52 L754.6 66.1" stroke="#000" stroke-width="1.7" fill="none" stroke-linejoin="round"/>
<path d="M634.28 241.81V244.23" stroke="#000" stroke-width="1.6"/>
<path d="M630.78 241.81H637.78" stroke="#000" stroke-width="1.6"/>
<path d="M650.01 232.14V236.17" stroke="#000" stroke-width="1.6"/>
<path d="M646.51 232.14H653.51" stroke="#000" stroke-width="1.6"/>
<path d="M664.36 215.21V221.66" stroke="#000" stroke-width="1.6"/>
<path d="M660.86 215.21H667.86" stroke="#000" stroke-width="1.6"/>
<path d="M680.09 189.42V197.48" stroke="#000" stroke-width="1.6"/>
<path d="M676.59 189.42H683.59" stroke="#000" stroke-width="1.6"/>
<path d="M694.44 125.75V137.03" stroke="#000" stroke-width="1.6"/>
<path d="M690.94 125.75H697.94" stroke="#000" stroke-width="1.6"/>
<path d="M710.17 91.09V103.18" stroke="#000" stroke-width="1.6"/>
<path d="M706.67 91.09H713.67" stroke="#000" stroke-width="1.6"/>
<path d="M724.52 63.68V75.77" stroke="#000" stroke-width="1.6"/>
<path d="M721.02 63.68H728.02" stroke="#000" stroke-width="1.6"/>
<path d="M740.25 56.43V68.52" stroke="#000" stroke-width="1.6"/>
<path d="M736.75 56.43H743.75" stroke="#000" stroke-width="1.6"/>
<path d="M754.6 52.4V66.1" stroke="#000" stroke-width="1.6"/>
<path d="M751.1 52.4H758.1" stroke="#000" stroke-width="1.6"/>
<circle cx="589.85" cy="252.29" r="2.75" fill="#fff" stroke="#000" stroke-width="1.6"/>
<circle cx="604.2" cy="250.68" r="2.75" fill="#fff" stroke="#000" stroke-width="1.6"/>
<circle cx="619.93" cy="249.06" r="2.75" fill="#fff" stroke="#000" stroke-width="1.6"/>
<circle cx="634.28" cy="244.23" r="2.75" fill="#fff" stroke="#000" stroke-width="1.6"/>
<circle cx="650.01" cy="236.17" r="2.75" fill="#fff" stroke="#000" stroke-width="1.6"/>
<circle cx="664.36" cy="221.66" r="2.75" fill="#fff" stroke="#000" stroke-width="1.6"/>
<circle cx="680.09" cy="197.48" r="2.75" fill="#fff" stroke="#000" stroke-width="1.6"/>
<circle cx="694.44" cy="137.03" r="2.75" fill="#fff" stroke="#000" stroke-width="1.6"/>
<circle cx="710.17" cy="103.18" r="2.75" fill="#fff" stroke="#000" stroke-width="1.6"/>
<circle cx="724.52" cy="75.77" r="2.75" fill="#fff" stroke="#000" stroke-width="1.6"/>
<circle cx="740.25" cy="68.52" r="2.75" fill="#fff" stroke="#000" stroke-width="1.6"/>
<circle cx="754.6" cy="66.1" r="2.75" fill="#fff" stroke="#000" stroke-width="1.6"/>
<path d="M589.85 252.29 L604.2 250.68 L619.93 249.06 L634.28 244.23 L650.01 236.97 L664.36 227.3 L680.09 199.09 L694.44 151.54 L710.17 116.07 L724.52 90.28 L740.25 78.6 L754.6 78.6" stroke="#000" stroke-width="1.7" fill="none" stroke-linejoin="round"/>
<circle cx="589.85" cy="252.29" r="3.1" fill="#000"/>
<circle cx="604.2" cy="250.68" r="3.1" fill="#000"/>
<circle cx="619.93" cy="249.06" r="3.1" fill="#000"/>
<circle cx="634.28" cy="244.23" r="3.1" fill="#000"/>
<circle cx="650.01" cy="236.97" r="3.1" fill="#000"/>
<circle cx="664.36" cy="227.3" r="3.1" fill="#000"/>
<circle cx="680.09" cy="199.09" r="3.1" fill="#000"/>
<circle cx="694.44" cy="151.54" r="3.1" fill="#000"/>
<circle cx="710.17" cy="116.07" r="3.1" fill="#000"/>
<circle cx="724.52" cy="90.28" r="3.1" fill="#000"/>
<circle cx="740.25" cy="78.6" r="3.1" fill="#000"/>
<circle cx="754.6" cy="78.6" r="3.1" fill="#000"/>
<path d="M589.85 252.29 L604.2 250.68 L619.93 249.06 L634.28 245.03 L650.01 237.78 L664.36 231.33 L680.09 202.32 L694.44 161.21 L710.17 128.16 L724.52 101.57 L740.25 90.69 L754.6 95.36" stroke="#000" stroke-width="1.7" fill="none" stroke-linejoin="round"/>
<path d="M634.28 245.03V246.65" stroke="#000" stroke-width="1.6"/>
<path d="M630.78 246.65H637.78" stroke="#000" stroke-width="1.6"/>
<path d="M650.01 237.78V241" stroke="#000" stroke-width="1.6"/>
<path d="M646.51 241H653.51" stroke="#000" stroke-width="1.6"/>
<path d="M664.36 231.33V236.17" stroke="#000" stroke-width="1.6"/>
<path d="M660.86 236.17H667.86" stroke="#000" stroke-width="1.6"/>
<path d="M680.09 202.32V210.38" stroke="#000" stroke-width="1.6"/>
<path d="M676.59 210.38H683.59" stroke="#000" stroke-width="1.6"/>
<path d="M694.44 161.21V170.88" stroke="#000" stroke-width="1.6"/>
<path d="M690.94 170.88H697.94" stroke="#000" stroke-width="1.6"/>
<path d="M710.17 128.16V137.84" stroke="#000" stroke-width="1.6"/>
<path d="M706.67 137.84H713.67" stroke="#000" stroke-width="1.6"/>
<path d="M724.52 101.57V111.24" stroke="#000" stroke-width="1.6"/>
<path d="M721.02 111.24H728.02" stroke="#000" stroke-width="1.6"/>
<path d="M740.25 90.69V101.16" stroke="#000" stroke-width="1.6"/>
<path d="M736.75 101.16H743.75" stroke="#000" stroke-width="1.6"/>
<path d="M754.6 95.36V106.64" stroke="#000" stroke-width="1.6"/>
<path d="M751.1 106.64H758.1" stroke="#000" stroke-width="1.6"/>
<path d="M589.85 248.89L593.25 254.84L586.45 254.84Z" fill="#000"/>
<path d="M604.2 247.28L607.6 253.23L600.8 253.23Z" fill="#000"/>
<path d="M619.93 245.66L623.33 251.61L616.53 251.61Z" fill="#000"/>
<path d="M634.28 241.63L637.68 247.58L630.88 247.58Z" fill="#000"/>
<path d="M650.01 234.38L653.41 240.33L646.61 240.33Z" fill="#000"/>
<path d="M664.36 227.93L667.76 233.88L660.96 233.88Z" fill="#000"/>
<path d="M680.09 198.92L683.49 204.87L676.69 204.87Z" fill="#000"/>
<path d="M694.44 157.81L697.84 163.76L691.04 163.76Z" fill="#000"/>
<path d="M710.17 124.76L713.57 130.71L706.77 130.71Z" fill="#000"/>
<path d="M724.52 98.17L727.92 104.12L721.12 104.12Z" fill="#000"/>
<path d="M740.25 87.29L743.65 93.24L736.85 93.24Z" fill="#000"/>
<path d="M754.6 91.96L758 97.91L751.2 97.91Z" fill="#000"/>
<path d="M589.85 252.29 L604.2 251.48 L619.93 249.87 L634.28 246.65 L650.01 241.81 L664.36 236.17 L680.09 224.08 L694.44 186.2 L710.17 147.83 L724.52 120.35 L740.25 116.07 L754.6 115.27" stroke="#000" stroke-width="1.7" fill="none" stroke-linejoin="round"/>
<path d="M634.28 246.65V248.26" stroke="#000" stroke-width="1.6"/>
<path d="M630.78 248.26H637.78" stroke="#000" stroke-width="1.6"/>
<path d="M650.01 241.81V244.23" stroke="#000" stroke-width="1.6"/>
<path d="M646.51 244.23H653.51" stroke="#000" stroke-width="1.6"/>
<path d="M664.36 236.17V240.2" stroke="#000" stroke-width="1.6"/>
<path d="M660.86 240.2H667.86" stroke="#000" stroke-width="1.6"/>
<path d="M680.09 224.08V229.72" stroke="#000" stroke-width="1.6"/>
<path d="M676.59 229.72H683.59" stroke="#000" stroke-width="1.6"/>
<path d="M694.44 186.2V196.67" stroke="#000" stroke-width="1.6"/>
<path d="M690.94 196.67H697.94" stroke="#000" stroke-width="1.6"/>
<path d="M710.17 147.83V159.92" stroke="#000" stroke-width="1.6"/>
<path d="M706.67 159.92H713.67" stroke="#000" stroke-width="1.6"/>
<path d="M724.52 120.35V134.05" stroke="#000" stroke-width="1.6"/>
<path d="M721.02 134.05H728.02" stroke="#000" stroke-width="1.6"/>
<path d="M740.25 116.07V130.58" stroke="#000" stroke-width="1.6"/>
<path d="M736.75 130.58H743.75" stroke="#000" stroke-width="1.6"/>
<path d="M754.6 115.27V129.78" stroke="#000" stroke-width="1.6"/>
<path d="M751.1 129.78H758.1" stroke="#000" stroke-width="1.6"/>
<path d="M589.85 255.69L593.25 249.74L586.45 249.74Z" fill="#000"/>
<path d="M604.2 254.88L607.6 248.93L600.8 248.93Z" fill="#000"/>
<path d="M619.93 253.27L623.33 247.32L616.53 247.32Z" fill="#000"/>
<path d="M634.28 250.05L637.68 244.1L630.88 244.1Z" fill="#000"/>
<path d="M650.01 245.21L653.41 239.26L646.61 239.26Z" fill="#000"/>
<path d="M664.36 239.57L667.76 233.62L660.96 233.62Z" fill="#000"/>
<path d="M680.09 227.48L683.49 221.53L676.69 221.53Z" fill="#000"/>
<path d="M694.44 189.6L697.84 183.65L691.04 183.65Z" fill="#000"/>
<path d="M710.17 151.23L713.57 145.28L706.77 145.28Z" fill="#000"/>
<path d="M724.52 123.75L727.92 117.8L721.12 117.8Z" fill="#000"/>
<path d="M740.25 119.47L743.65 113.52L736.85 113.52Z" fill="#000"/>
<path d="M754.6 118.67L758 112.72L751.2 112.72Z" fill="#000"/>
<path d="M589.85 252.29 L604.2 251.48 L619.93 250.68 L634.28 249.06 L650.01 246.65 L664.36 241.81 L680.09 237.78 L694.44 218.84 L710.17 188.21 L724.52 167.66 L740.25 161.05 L754.6 157.99" stroke="#000" stroke-width="1.7" fill="none" stroke-linejoin="round"/>
<path d="M634.28 247.45V249.06" stroke="#000" stroke-width="1.6"/>
<path d="M630.78 247.45H637.78" stroke="#000" stroke-width="1.6"/>
<path d="M650.01 244.23V246.65" stroke="#000" stroke-width="1.6"/>
<path d="M646.51 244.23H653.51" stroke="#000" stroke-width="1.6"/>
<path d="M664.36 238.59V241.81" stroke="#000" stroke-width="1.6"/>
<path d="M660.86 238.59H667.86" stroke="#000" stroke-width="1.6"/>
<path d="M680.09 233.75V237.78" stroke="#000" stroke-width="1.6"/>
<path d="M676.59 233.75H683.59" stroke="#000" stroke-width="1.6"/>
<path d="M694.44 214.81V218.84" stroke="#000" stroke-width="1.6"/>
<path d="M690.94 214.81H697.94" stroke="#000" stroke-width="1.6"/>
<path d="M710.17 180.15V188.21" stroke="#000" stroke-width="1.6"/>
<path d="M706.67 180.15H713.67" stroke="#000" stroke-width="1.6"/>
<path d="M724.52 157.99V167.66" stroke="#000" stroke-width="1.6"/>
<path d="M721.02 157.99H728.02" stroke="#000" stroke-width="1.6"/>
<path d="M740.25 150.57V161.05" stroke="#000" stroke-width="1.6"/>
<path d="M736.75 150.57H743.75" stroke="#000" stroke-width="1.6"/>
<path d="M754.6 147.11V157.99" stroke="#000" stroke-width="1.6"/>
<path d="M751.1 147.11H758.1" stroke="#000" stroke-width="1.6"/>
<path d="M589.85 248.59L593.37 252.29L589.85 255.99L586.34 252.29Z" fill="#000"/>
<path d="M604.2 247.78L607.72 251.48L604.2 255.18L600.69 251.48Z" fill="#000"/>
<path d="M619.93 246.98L623.45 250.68L619.93 254.38L616.42 250.68Z" fill="#000"/>
<path d="M634.28 245.36L637.8 249.06L634.28 252.76L630.77 249.06Z" fill="#000"/>
<path d="M650.01 242.95L653.52 246.65L650.01 250.35L646.5 246.65Z" fill="#000"/>
<path d="M664.36 238.11L667.88 241.81L664.36 245.51L660.85 241.81Z" fill="#000"/>
<path d="M680.09 234.08L683.61 237.78L680.09 241.48L676.58 237.78Z" fill="#000"/>
<path d="M694.44 215.14L697.96 218.84L694.44 222.54L690.93 218.84Z" fill="#000"/>
<path d="M710.17 184.51L713.69 188.21L710.17 191.91L706.66 188.21Z" fill="#000"/>
<path d="M724.52 163.96L728.04 167.66L724.52 171.36L721.01 167.66Z" fill="#000"/>
<path d="M740.25 157.35L743.76 161.05L740.25 164.75L736.74 161.05Z" fill="#000"/>
<path d="M754.6 154.29L758.12 157.99L754.6 161.69L751.09 157.99Z" fill="#000"/>
<path d="M589.85 252.29 L604.2 251.48 L619.93 250.68 L634.28 250.68 L650.01 250.68 L664.36 246.89 L680.09 238.83 L694.44 228.51 L710.17 211.59 L724.52 194.66 L740.25 188.45 L754.6 182.81" stroke="#000" stroke-width="1.7" fill="none" stroke-linejoin="round"/>
<path d="M634.28 249.06V252.29" stroke="#000" stroke-width="1.6"/>
<path d="M630.78 249.06H637.78" stroke="#000" stroke-width="1.6"/>
<path d="M630.78 252.29H637.78" stroke="#000" stroke-width="1.6"/>
<path d="M650.01 249.06V252.29" stroke="#000" stroke-width="1.6"/>
<path d="M646.51 249.06H653.51" stroke="#000" stroke-width="1.6"/>
<path d="M646.51 252.29H653.51" stroke="#000" stroke-width="1.6"/>
<path d="M664.36 244.47V249.31" stroke="#000" stroke-width="1.6"/>
<path d="M660.86 244.47H667.86" stroke="#000" stroke-width="1.6"/>
<path d="M660.86 249.31H667.86" stroke="#000" stroke-width="1.6"/>
<path d="M680.09 235.6V242.05" stroke="#000" stroke-width="1.6"/>
<path d="M676.59 235.6H683.59" stroke="#000" stroke-width="1.6"/>
<path d="M676.59 242.05H683.59" stroke="#000" stroke-width="1.6"/>
<path d="M694.44 224.48V232.54" stroke="#000" stroke-width="1.6"/>
<path d="M690.94 224.48H697.94" stroke="#000" stroke-width="1.6"/>
<path d="M690.94 232.54H697.94" stroke="#000" stroke-width="1.6"/>
<path d="M710.17 205.94V217.23" stroke="#000" stroke-width="1.6"/>
<path d="M706.67 205.94H713.67" stroke="#000" stroke-width="1.6"/>
<path d="M706.67 217.23H713.67" stroke="#000" stroke-width="1.6"/>
<path d="M724.52 186.6V202.72" stroke="#000" stroke-width="1.6"/>
<path d="M721.02 186.6H728.02" stroke="#000" stroke-width="1.6"/>
<path d="M721.02 202.72H728.02" stroke="#000" stroke-width="1.6"/>
<path d="M740.25 178.38V198.53" stroke="#000" stroke-width="1.6"/>
<path d="M736.75 178.38H743.75" stroke="#000" stroke-width="1.6"/>
<path d="M736.75 198.53H743.75" stroke="#000" stroke-width="1.6"/>
<path d="M754.6 171.12V194.5" stroke="#000" stroke-width="1.6"/>
<path d="M751.1 171.12H758.1" stroke="#000" stroke-width="1.6"/>
<path d="M751.1 194.5H758.1" stroke="#000" stroke-width="1.6"/>
<rect x="586.85" y="249.29" width="6" height="6" fill="#000"/>
<rect x="601.2" y="248.48" width="6" height="6" fill="#000"/>
<rect x="616.93" y="247.68" width="6" height="6" fill="#000"/>
<rect x="631.28" y="247.68" width="6" height="6" fill="#000"/>
<rect x="647.01" y="247.68" width="6" height="6" fill="#000"/>
<rect x="661.36" y="243.89" width="6" height="6" fill="#000"/>
<rect x="677.09" y="235.83" width="6" height="6" fill="#000"/>
<rect x="691.44" y="225.51" width="6" height="6" fill="#000"/>
<rect x="707.17" y="208.59" width="6" height="6" fill="#000"/>
<rect x="721.52" y="191.66" width="6" height="6" fill="#000"/>
<rect x="737.25" y="185.45" width="6" height="6" fill="#000"/>
<rect x="751.6" y="179.81" width="6" height="6" fill="#000"/>
<path d="M592.5 13.4H606.3" stroke="#000" stroke-width="2"/>
<circle cx="599.4" cy="13.4" r="2.75" fill="#fff" stroke="#000" stroke-width="1.6"/>
<text x="0" y="0" font-size="11" fill="#111" transform="translate(611.9 17.1) scale(1.08 1)">Solvent</text>
<path d="M592.5 27.7H606.3" stroke="#000" stroke-width="2"/>
<circle cx="599.4" cy="27.7" r="3.1" fill="#000"/>
<text x="0" y="0" font-size="11" fill="#111" transform="translate(611.9 31.4) scale(1.08 1)">BUP 3 μmol/L</text>
<path d="M592.5 42H606.3" stroke="#000" stroke-width="2"/>
<path d="M599.4 38.6L602.8 44.55L596 44.55Z" fill="#000"/>
<text x="0" y="0" font-size="11" fill="#111" transform="translate(611.9 45.7) scale(1.08 1)">BUP 10 μmol/L</text>
<path d="M592.5 56.3H606.3" stroke="#000" stroke-width="2"/>
<path d="M599.4 59.7L602.8 53.75L596 53.75Z" fill="#000"/>
<text x="0" y="0" font-size="11" fill="#111" transform="translate(611.9 60) scale(1.08 1)">BUP 30 μmol/L</text>
<path d="M592.5 70.6H606.3" stroke="#000" stroke-width="2"/>
<path d="M599.4 66.9L602.91 70.6L599.4 74.3L595.88 70.6Z" fill="#000"/>
<text x="0" y="0" font-size="11" fill="#111" transform="translate(611.9 74.3) scale(1.08 1)">BUP 100 μmol/L</text>
<path d="M592.5 84.9H606.3" stroke="#000" stroke-width="2"/>
<rect x="596.4" y="81.9" width="6" height="6" fill="#000"/>
<text x="0" y="0" font-size="11" fill="#111" transform="translate(611.9 88.6) scale(1.08 1)">BUP 300 μmol/L</text>
<text x="0" y="0" font-size="11" fill="#111" transform="translate(611.9 102.9) scale(1.08 1)">washout</text>
<text x="694.3" y="207" font-size="10.8" text-anchor="middle" fill="#111" >c</text>
<text x="710" y="170.5" font-size="10.8" text-anchor="middle" fill="#111" >c</text>
<text x="724.4" y="143" font-size="10.8" text-anchor="middle" fill="#111" >c</text>
<text x="740.1" y="141" font-size="10.8" text-anchor="middle" fill="#111" >c</text>
<text x="754.5" y="139" font-size="10.8" text-anchor="middle" fill="#111" >c</text>
<text x="710" y="199.5" font-size="10.8" text-anchor="middle" fill="#111" >c</text>
<text x="724.4" y="180" font-size="10.8" text-anchor="middle" fill="#111" >c</text>
<text x="740.1" y="172.5" font-size="10.8" text-anchor="middle" fill="#111" >c</text>
<text x="754.5" y="169.5" font-size="10.8" text-anchor="middle" fill="#111" >c</text>
<text x="694.3" y="241" font-size="10.8" text-anchor="middle" fill="#111" >c</text>
<text x="710" y="226" font-size="10.8" text-anchor="middle" fill="#111" >c</text>
<text x="724.4" y="211" font-size="10.8" text-anchor="middle" fill="#111" >c</text>
<text x="740.1" y="208" font-size="10.8" text-anchor="middle" fill="#111" >c</text>
<text x="754.5" y="204.5" font-size="10.8" text-anchor="middle" fill="#111" >c</text>
<path d="M51.45 582.48 L65.8 580.87 L81.52 579.26 L95.87 570.41 L111.59 547.89 L125.94 506.86 L141.66 481.12 L156.01 455.37 L171.73 439.28 L186.08 428.02 L201.8 415.95 L216.15 410.32" stroke="#000" stroke-width="1.7" fill="none" stroke-linejoin="round"/>
<path d="M81.52 576.85V581.68" stroke="#000" stroke-width="1.6"/>
<path d="M78.02 576.85H85.02" stroke="#000" stroke-width="1.6"/>
<path d="M78.02 581.68H85.02" stroke="#000" stroke-width="1.6"/>
<path d="M95.87 568V572.83" stroke="#000" stroke-width="1.6"/>
<path d="M92.37 568H99.37" stroke="#000" stroke-width="1.6"/>
<path d="M92.37 572.83H99.37" stroke="#000" stroke-width="1.6"/>
<path d="M111.59 542.26V553.52" stroke="#000" stroke-width="1.6"/>
<path d="M108.09 542.26H115.09" stroke="#000" stroke-width="1.6"/>
<path d="M108.09 553.52H115.09" stroke="#000" stroke-width="1.6"/>
<path d="M125.94 498.81V514.9" stroke="#000" stroke-width="1.6"/>
<path d="M122.44 498.81H129.44" stroke="#000" stroke-width="1.6"/>
<path d="M122.44 514.9H129.44" stroke="#000" stroke-width="1.6"/>
<path d="M141.66 473.07V489.16" stroke="#000" stroke-width="1.6"/>
<path d="M138.16 473.07H145.16" stroke="#000" stroke-width="1.6"/>
<path d="M138.16 489.16H145.16" stroke="#000" stroke-width="1.6"/>
<path d="M156.01 448.13V462.61" stroke="#000" stroke-width="1.6"/>
<path d="M152.51 448.13H159.51" stroke="#000" stroke-width="1.6"/>
<path d="M152.51 462.61H159.51" stroke="#000" stroke-width="1.6"/>
<path d="M171.73 432.85V445.72" stroke="#000" stroke-width="1.6"/>
<path d="M168.23 432.85H175.23" stroke="#000" stroke-width="1.6"/>
<path d="M168.23 445.72H175.23" stroke="#000" stroke-width="1.6"/>
<path d="M186.08 419.97V436.06" stroke="#000" stroke-width="1.6"/>
<path d="M182.58 419.97H189.58" stroke="#000" stroke-width="1.6"/>
<path d="M182.58 436.06H189.58" stroke="#000" stroke-width="1.6"/>
<path d="M201.8 407.91V424" stroke="#000" stroke-width="1.6"/>
<path d="M198.3 407.91H205.3" stroke="#000" stroke-width="1.6"/>
<path d="M198.3 424H205.3" stroke="#000" stroke-width="1.6"/>
<path d="M216.15 400.67V419.97" stroke="#000" stroke-width="1.6"/>
<path d="M212.65 400.67H219.65" stroke="#000" stroke-width="1.6"/>
<path d="M212.65 419.97H219.65" stroke="#000" stroke-width="1.6"/>
<circle cx="51.45" cy="582.48" r="2.89" fill="#fff" stroke="#000" stroke-width="1.68"/>
<circle cx="65.8" cy="580.87" r="2.89" fill="#fff" stroke="#000" stroke-width="1.68"/>
<circle cx="81.52" cy="579.26" r="2.89" fill="#fff" stroke="#000" stroke-width="1.68"/>
<circle cx="95.87" cy="570.41" r="2.89" fill="#fff" stroke="#000" stroke-width="1.68"/>
<circle cx="111.59" cy="547.89" r="2.89" fill="#fff" stroke="#000" stroke-width="1.68"/>
<circle cx="125.94" cy="506.86" r="2.89" fill="#fff" stroke="#000" stroke-width="1.68"/>
<circle cx="141.66" cy="481.12" r="2.89" fill="#fff" stroke="#000" stroke-width="1.68"/>
<circle cx="156.01" cy="455.37" r="2.89" fill="#fff" stroke="#000" stroke-width="1.68"/>
<circle cx="171.73" cy="439.28" r="2.89" fill="#fff" stroke="#000" stroke-width="1.68"/>
<circle cx="186.08" cy="428.02" r="2.89" fill="#fff" stroke="#000" stroke-width="1.68"/>
<circle cx="201.8" cy="415.95" r="2.89" fill="#fff" stroke="#000" stroke-width="1.68"/>
<circle cx="216.15" cy="410.32" r="2.89" fill="#fff" stroke="#000" stroke-width="1.68"/>
<path d="M51.45 582.48 L65.8 580.87 L81.52 578.46 L95.87 563.17 L111.59 545.48 L125.94 514.9 L141.66 481.12 L156.01 456.98 L171.73 437.67 L186.08 427.21 L201.8 415.15 L216.15 411.93" stroke="#000" stroke-width="1.7" fill="none" stroke-linejoin="round"/>
<path d="M81.52 576.05V580.87" stroke="#000" stroke-width="1.6"/>
<path d="M78.02 576.05H85.02" stroke="#000" stroke-width="1.6"/>
<path d="M78.02 580.87H85.02" stroke="#000" stroke-width="1.6"/>
<path d="M95.87 560.76V565.59" stroke="#000" stroke-width="1.6"/>
<path d="M92.37 560.76H99.37" stroke="#000" stroke-width="1.6"/>
<path d="M92.37 565.59H99.37" stroke="#000" stroke-width="1.6"/>
<path d="M111.59 539.84V551.11" stroke="#000" stroke-width="1.6"/>
<path d="M108.09 539.84H115.09" stroke="#000" stroke-width="1.6"/>
<path d="M108.09 551.11H115.09" stroke="#000" stroke-width="1.6"/>
<path d="M125.94 506.86V522.95" stroke="#000" stroke-width="1.6"/>
<path d="M122.44 506.86H129.44" stroke="#000" stroke-width="1.6"/>
<path d="M122.44 522.95H129.44" stroke="#000" stroke-width="1.6"/>
<path d="M141.66 473.07V489.16" stroke="#000" stroke-width="1.6"/>
<path d="M138.16 473.07H145.16" stroke="#000" stroke-width="1.6"/>
<path d="M138.16 489.16H145.16" stroke="#000" stroke-width="1.6"/>
<path d="M156.01 449.74V464.22" stroke="#000" stroke-width="1.6"/>
<path d="M152.51 449.74H159.51" stroke="#000" stroke-width="1.6"/>
<path d="M152.51 464.22H159.51" stroke="#000" stroke-width="1.6"/>
<path d="M171.73 431.24V444.11" stroke="#000" stroke-width="1.6"/>
<path d="M168.23 431.24H175.23" stroke="#000" stroke-width="1.6"/>
<path d="M168.23 444.11H175.23" stroke="#000" stroke-width="1.6"/>
<path d="M186.08 419.17V435.26" stroke="#000" stroke-width="1.6"/>
<path d="M182.58 419.17H189.58" stroke="#000" stroke-width="1.6"/>
<path d="M182.58 435.26H189.58" stroke="#000" stroke-width="1.6"/>
<path d="M201.8 407.1V423.19" stroke="#000" stroke-width="1.6"/>
<path d="M198.3 407.1H205.3" stroke="#000" stroke-width="1.6"/>
<path d="M198.3 423.19H205.3" stroke="#000" stroke-width="1.6"/>
<path d="M216.15 402.27V421.58" stroke="#000" stroke-width="1.6"/>
<path d="M212.65 402.27H219.65" stroke="#000" stroke-width="1.6"/>
<path d="M212.65 421.58H219.65" stroke="#000" stroke-width="1.6"/>
<circle cx="51.45" cy="582.48" r="3.26" fill="#000"/>
<circle cx="65.8" cy="580.87" r="3.26" fill="#000"/>
<circle cx="81.52" cy="578.46" r="3.26" fill="#000"/>
<circle cx="95.87" cy="563.17" r="3.26" fill="#000"/>
<circle cx="111.59" cy="545.48" r="3.26" fill="#000"/>
<circle cx="125.94" cy="514.9" r="3.26" fill="#000"/>
<circle cx="141.66" cy="481.12" r="3.26" fill="#000"/>
<circle cx="156.01" cy="456.98" r="3.26" fill="#000"/>
<circle cx="171.73" cy="437.67" r="3.26" fill="#000"/>
<circle cx="186.08" cy="427.21" r="3.26" fill="#000"/>
<circle cx="201.8" cy="415.15" r="3.26" fill="#000"/>
<circle cx="216.15" cy="411.93" r="3.26" fill="#000"/>
<path d="M51.45 583.29 L65.8 581.68 L81.52 580.07 L95.87 576.05 L111.59 550.3 L125.94 522.95 L141.66 485.14 L156.01 460.2 L171.73 440.89 L186.08 428.82 L201.8 418.36 L216.15 415.15" stroke="#000" stroke-width="1.7" fill="none" stroke-linejoin="round"/>
<path d="M81.52 577.66V582.48" stroke="#000" stroke-width="1.6"/>
<path d="M78.02 577.66H85.02" stroke="#000" stroke-width="1.6"/>
<path d="M78.02 582.48H85.02" stroke="#000" stroke-width="1.6"/>
<path d="M95.87 573.63V578.46" stroke="#000" stroke-width="1.6"/>
<path d="M92.37 573.63H99.37" stroke="#000" stroke-width="1.6"/>
<path d="M92.37 578.46H99.37" stroke="#000" stroke-width="1.6"/>
<path d="M111.59 544.67V555.93" stroke="#000" stroke-width="1.6"/>
<path d="M108.09 544.67H115.09" stroke="#000" stroke-width="1.6"/>
<path d="M108.09 555.93H115.09" stroke="#000" stroke-width="1.6"/>
<path d="M125.94 514.9V530.99" stroke="#000" stroke-width="1.6"/>
<path d="M122.44 514.9H129.44" stroke="#000" stroke-width="1.6"/>
<path d="M122.44 530.99H129.44" stroke="#000" stroke-width="1.6"/>
<path d="M141.66 477.09V493.18" stroke="#000" stroke-width="1.6"/>
<path d="M138.16 477.09H145.16" stroke="#000" stroke-width="1.6"/>
<path d="M138.16 493.18H145.16" stroke="#000" stroke-width="1.6"/>
<path d="M156.01 452.96V467.44" stroke="#000" stroke-width="1.6"/>
<path d="M152.51 452.96H159.51" stroke="#000" stroke-width="1.6"/>
<path d="M152.51 467.44H159.51" stroke="#000" stroke-width="1.6"/>
<path d="M171.73 434.45V447.33" stroke="#000" stroke-width="1.6"/>
<path d="M168.23 434.45H175.23" stroke="#000" stroke-width="1.6"/>
<path d="M168.23 447.33H175.23" stroke="#000" stroke-width="1.6"/>
<path d="M186.08 420.78V436.87" stroke="#000" stroke-width="1.6"/>
<path d="M182.58 420.78H189.58" stroke="#000" stroke-width="1.6"/>
<path d="M182.58 436.87H189.58" stroke="#000" stroke-width="1.6"/>
<path d="M201.8 410.32V426.41" stroke="#000" stroke-width="1.6"/>
<path d="M198.3 410.32H205.3" stroke="#000" stroke-width="1.6"/>
<path d="M198.3 426.41H205.3" stroke="#000" stroke-width="1.6"/>
<path d="M216.15 405.49V424.8" stroke="#000" stroke-width="1.6"/>
<path d="M212.65 405.49H219.65" stroke="#000" stroke-width="1.6"/>
<path d="M212.65 424.8H219.65" stroke="#000" stroke-width="1.6"/>
<rect x="48.3" y="580.14" width="6.3" height="6.3" fill="#000"/>
<rect x="62.65" y="578.53" width="6.3" height="6.3" fill="#000"/>
<rect x="78.37" y="576.92" width="6.3" height="6.3" fill="#000"/>
<rect x="92.72" y="572.9" width="6.3" height="6.3" fill="#000"/>
<rect x="108.44" y="547.15" width="6.3" height="6.3" fill="#000"/>
<rect x="122.79" y="519.8" width="6.3" height="6.3" fill="#000"/>
<rect x="138.51" y="481.99" width="6.3" height="6.3" fill="#000"/>
<rect x="152.86" y="457.05" width="6.3" height="6.3" fill="#000"/>
<rect x="168.58" y="437.74" width="6.3" height="6.3" fill="#000"/>
<rect x="182.93" y="425.67" width="6.3" height="6.3" fill="#000"/>
<rect x="198.65" y="415.21" width="6.3" height="6.3" fill="#000"/>
<rect x="213" y="412" width="6.3" height="6.3" fill="#000"/>
<path d="M51.45 583.29 L65.8 581.68 L81.52 580.07 L95.87 577.66 L111.59 549.5 L125.94 524.56 L141.66 482.72 L156.01 458.59 L171.73 439.28 L186.08 428.02 L201.8 416.75 L216.15 413.54" stroke="#000" stroke-width="1.7" fill="none" stroke-linejoin="round"/>
<path d="M81.52 577.66V582.48" stroke="#000" stroke-width="1.6"/>
<path d="M78.02 577.66H85.02" stroke="#000" stroke-width="1.6"/>
<path d="M78.02 582.48H85.02" stroke="#000" stroke-width="1.6"/>
<path d="M95.87 575.24V580.07" stroke="#000" stroke-width="1.6"/>
<path d="M92.37 575.24H99.37" stroke="#000" stroke-width="1.6"/>
<path d="M92.37 580.07H99.37" stroke="#000" stroke-width="1.6"/>
<path d="M111.59 543.87V555.13" stroke="#000" stroke-width="1.6"/>
<path d="M108.09 543.87H115.09" stroke="#000" stroke-width="1.6"/>
<path d="M108.09 555.13H115.09" stroke="#000" stroke-width="1.6"/>
<path d="M125.94 516.51V532.6" stroke="#000" stroke-width="1.6"/>
<path d="M122.44 516.51H129.44" stroke="#000" stroke-width="1.6"/>
<path d="M122.44 532.6H129.44" stroke="#000" stroke-width="1.6"/>
<path d="M141.66 474.68V490.77" stroke="#000" stroke-width="1.6"/>
<path d="M138.16 474.68H145.16" stroke="#000" stroke-width="1.6"/>
<path d="M138.16 490.77H145.16" stroke="#000" stroke-width="1.6"/>
<path d="M156.01 451.35V465.83" stroke="#000" stroke-width="1.6"/>
<path d="M152.51 451.35H159.51" stroke="#000" stroke-width="1.6"/>
<path d="M152.51 465.83H159.51" stroke="#000" stroke-width="1.6"/>
<path d="M171.73 432.85V445.72" stroke="#000" stroke-width="1.6"/>
<path d="M168.23 432.85H175.23" stroke="#000" stroke-width="1.6"/>
<path d="M168.23 445.72H175.23" stroke="#000" stroke-width="1.6"/>
<path d="M186.08 419.97V436.06" stroke="#000" stroke-width="1.6"/>
<path d="M182.58 419.97H189.58" stroke="#000" stroke-width="1.6"/>
<path d="M182.58 436.06H189.58" stroke="#000" stroke-width="1.6"/>
<path d="M201.8 408.71V424.8" stroke="#000" stroke-width="1.6"/>
<path d="M198.3 408.71H205.3" stroke="#000" stroke-width="1.6"/>
<path d="M198.3 424.8H205.3" stroke="#000" stroke-width="1.6"/>
<path d="M216.15 403.88V423.19" stroke="#000" stroke-width="1.6"/>
<path d="M212.65 403.88H219.65" stroke="#000" stroke-width="1.6"/>
<path d="M212.65 423.19H219.65" stroke="#000" stroke-width="1.6"/>
<path d="M51.45 579.72L55.02 585.96L47.88 585.96Z" fill="#000"/>
<path d="M65.8 578.11L69.37 584.36L62.23 584.36Z" fill="#000"/>
<path d="M81.52 576.5L85.09 582.75L77.95 582.75Z" fill="#000"/>
<path d="M95.87 574.09L99.44 580.33L92.3 580.33Z" fill="#000"/>
<path d="M111.59 545.93L115.16 552.18L108.02 552.18Z" fill="#000"/>
<path d="M125.94 520.99L129.51 527.24L122.37 527.24Z" fill="#000"/>
<path d="M141.66 479.15L145.23 485.4L138.09 485.4Z" fill="#000"/>
<path d="M156.01 455.02L159.58 461.27L152.44 461.27Z" fill="#000"/>
<path d="M171.73 435.71L175.3 441.96L168.16 441.96Z" fill="#000"/>
<path d="M186.08 424.45L189.65 430.7L182.51 430.7Z" fill="#000"/>
<path d="M201.8 413.19L205.37 419.43L198.23 419.43Z" fill="#000"/>
<path d="M216.15 409.97L219.72 416.21L212.58 416.21Z" fill="#000"/>
<path d="M320.5 583.29 L334.8 583.29 L350.48 582.48 L364.78 579.26 L380.46 573.63 L394.76 561.57 L410.44 527.78 L424.74 470.66 L440.42 433.65 L454.72 407.5 L470.4 395.03 L484.7 393.1" stroke="#000" stroke-width="1.7" fill="none" stroke-linejoin="round"/>
<path d="M364.78 577.65V579.26" stroke="#000" stroke-width="1.6"/>
<path d="M361.28 577.65H368.28" stroke="#000" stroke-width="1.6"/>
<path d="M380.46 571.22V573.63" stroke="#000" stroke-width="1.6"/>
<path d="M376.96 571.22H383.96" stroke="#000" stroke-width="1.6"/>
<path d="M394.76 557.54V561.57" stroke="#000" stroke-width="1.6"/>
<path d="M391.26 557.54H398.26" stroke="#000" stroke-width="1.6"/>
<path d="M410.44 522.95V527.78" stroke="#000" stroke-width="1.6"/>
<path d="M406.94 522.95H413.94" stroke="#000" stroke-width="1.6"/>
<path d="M424.74 465.83V470.66" stroke="#000" stroke-width="1.6"/>
<path d="M421.24 465.83H428.24" stroke="#000" stroke-width="1.6"/>
<path d="M440.42 428.02V433.65" stroke="#000" stroke-width="1.6"/>
<path d="M436.92 428.02H443.92" stroke="#000" stroke-width="1.6"/>
<path d="M454.72 401.87V407.5" stroke="#000" stroke-width="1.6"/>
<path d="M451.22 401.87H458.22" stroke="#000" stroke-width="1.6"/>
<path d="M470.4 389.4V395.03" stroke="#000" stroke-width="1.6"/>
<path d="M466.9 389.4H473.9" stroke="#000" stroke-width="1.6"/>
<path d="M484.7 388.28V393.1" stroke="#000" stroke-width="1.6"/>
<path d="M481.2 388.28H488.2" stroke="#000" stroke-width="1.6"/>
<circle cx="320.5" cy="583.29" r="2.48" fill="#fff" stroke="#000" stroke-width="1.44"/>
<circle cx="334.8" cy="583.29" r="2.48" fill="#fff" stroke="#000" stroke-width="1.44"/>
<circle cx="350.48" cy="582.48" r="2.48" fill="#fff" stroke="#000" stroke-width="1.44"/>
<circle cx="364.78" cy="579.26" r="2.48" fill="#fff" stroke="#000" stroke-width="1.44"/>
<circle cx="380.46" cy="573.63" r="2.48" fill="#fff" stroke="#000" stroke-width="1.44"/>
<circle cx="394.76" cy="561.57" r="2.48" fill="#fff" stroke="#000" stroke-width="1.44"/>
<circle cx="410.44" cy="527.78" r="2.48" fill="#fff" stroke="#000" stroke-width="1.44"/>
<circle cx="424.74" cy="470.66" r="2.48" fill="#fff" stroke="#000" stroke-width="1.44"/>
<circle cx="440.42" cy="433.65" r="2.48" fill="#fff" stroke="#000" stroke-width="1.44"/>
<circle cx="454.72" cy="407.5" r="2.48" fill="#fff" stroke="#000" stroke-width="1.44"/>
<circle cx="470.4" cy="395.03" r="2.48" fill="#fff" stroke="#000" stroke-width="1.44"/>
<circle cx="484.7" cy="393.1" r="2.48" fill="#fff" stroke="#000" stroke-width="1.44"/>
<path d="M320.5 583.29 L334.8 583.29 L350.48 582.48 L364.78 578.46 L380.46 572.83 L394.76 560.76 L410.44 522.95 L424.74 480.71 L440.42 436.63 L454.72 416.75 L470.4 403.08 L484.7 397.85" stroke="#000" stroke-width="1.7" fill="none" stroke-linejoin="round"/>
<circle cx="320.5" cy="583.29" r="2.79" fill="#000"/>
<circle cx="334.8" cy="583.29" r="2.79" fill="#000"/>
<circle cx="350.48" cy="582.48" r="2.79" fill="#000"/>
<circle cx="364.78" cy="578.46" r="2.79" fill="#000"/>
<circle cx="380.46" cy="572.83" r="2.79" fill="#000"/>
<circle cx="394.76" cy="560.76" r="2.79" fill="#000"/>
<circle cx="410.44" cy="522.95" r="2.79" fill="#000"/>
<circle cx="424.74" cy="480.71" r="2.79" fill="#000"/>
<circle cx="440.42" cy="436.63" r="2.79" fill="#000"/>
<circle cx="454.72" cy="416.75" r="2.79" fill="#000"/>
<circle cx="470.4" cy="403.08" r="2.79" fill="#000"/>
<circle cx="484.7" cy="397.85" r="2.79" fill="#000"/>
<path d="M320.5 584.09 L334.8 583.29 L350.48 582.48 L364.78 580.07 L380.46 576.05 L394.76 563.17 L410.44 534.21 L424.74 487.23 L440.42 451.03 L454.72 425.28 L470.4 414.02 L484.7 407.5" stroke="#000" stroke-width="1.7" fill="none" stroke-linejoin="round"/>
<path d="M364.78 580.07V581.68" stroke="#000" stroke-width="1.6"/>
<path d="M361.28 581.68H368.28" stroke="#000" stroke-width="1.6"/>
<path d="M380.46 576.05V578.46" stroke="#000" stroke-width="1.6"/>
<path d="M376.96 578.46H383.96" stroke="#000" stroke-width="1.6"/>
<path d="M394.76 563.17V567.2" stroke="#000" stroke-width="1.6"/>
<path d="M391.26 567.2H398.26" stroke="#000" stroke-width="1.6"/>
<path d="M410.44 534.21V539.84" stroke="#000" stroke-width="1.6"/>
<path d="M406.94 539.84H413.94" stroke="#000" stroke-width="1.6"/>
<path d="M424.74 487.23V493.67" stroke="#000" stroke-width="1.6"/>
<path d="M421.24 493.67H428.24" stroke="#000" stroke-width="1.6"/>
<path d="M440.42 451.03V459.07" stroke="#000" stroke-width="1.6"/>
<path d="M436.92 459.07H443.92" stroke="#000" stroke-width="1.6"/>
<path d="M454.72 425.28V434.94" stroke="#000" stroke-width="1.6"/>
<path d="M451.22 434.94H458.22" stroke="#000" stroke-width="1.6"/>
<path d="M470.4 414.02V425.28" stroke="#000" stroke-width="1.6"/>
<path d="M466.9 425.28H473.9" stroke="#000" stroke-width="1.6"/>
<path d="M484.7 407.5V418.77" stroke="#000" stroke-width="1.6"/>
<path d="M481.2 418.77H488.2" stroke="#000" stroke-width="1.6"/>
<rect x="317.8" y="581.39" width="5.4" height="5.4" fill="#000"/>
<rect x="332.1" y="580.59" width="5.4" height="5.4" fill="#000"/>
<rect x="347.78" y="579.78" width="5.4" height="5.4" fill="#000"/>
<rect x="362.08" y="577.37" width="5.4" height="5.4" fill="#000"/>
<rect x="377.76" y="573.35" width="5.4" height="5.4" fill="#000"/>
<rect x="392.06" y="560.47" width="5.4" height="5.4" fill="#000"/>
<rect x="407.74" y="531.51" width="5.4" height="5.4" fill="#000"/>
<rect x="422.04" y="484.53" width="5.4" height="5.4" fill="#000"/>
<rect x="437.72" y="448.33" width="5.4" height="5.4" fill="#000"/>
<rect x="452.02" y="422.58" width="5.4" height="5.4" fill="#000"/>
<rect x="467.7" y="411.32" width="5.4" height="5.4" fill="#000"/>
<rect x="482" y="404.8" width="5.4" height="5.4" fill="#000"/>
<path d="M320.5 584.09 L334.8 583.29 L350.48 582.48 L364.78 580.87 L380.46 580.07 L394.76 573.63 L410.44 560.76 L424.74 514.9 L440.42 469.37 L454.72 444.11 L470.4 428.02 L484.7 425.28" stroke="#000" stroke-width="1.7" fill="none" stroke-linejoin="round"/>
<path d="M364.78 580.87V582.48" stroke="#000" stroke-width="1.6"/>
<path d="M361.28 582.48H368.28" stroke="#000" stroke-width="1.6"/>
<path d="M380.46 580.07V582.48" stroke="#000" stroke-width="1.6"/>
<path d="M376.96 582.48H383.96" stroke="#000" stroke-width="1.6"/>
<path d="M394.76 573.63V576.85" stroke="#000" stroke-width="1.6"/>
<path d="M391.26 576.85H398.26" stroke="#000" stroke-width="1.6"/>
<path d="M410.44 560.76V564.78" stroke="#000" stroke-width="1.6"/>
<path d="M406.94 564.78H413.94" stroke="#000" stroke-width="1.6"/>
<path d="M424.74 514.9V520.54" stroke="#000" stroke-width="1.6"/>
<path d="M421.24 520.54H428.24" stroke="#000" stroke-width="1.6"/>
<path d="M440.42 469.37V474.2" stroke="#000" stroke-width="1.6"/>
<path d="M436.92 474.2H443.92" stroke="#000" stroke-width="1.6"/>
<path d="M454.72 444.11V448.94" stroke="#000" stroke-width="1.6"/>
<path d="M451.22 448.94H458.22" stroke="#000" stroke-width="1.6"/>
<path d="M470.4 428.02V433.65" stroke="#000" stroke-width="1.6"/>
<path d="M466.9 433.65H473.9" stroke="#000" stroke-width="1.6"/>
<path d="M484.7 425.28V430.11" stroke="#000" stroke-width="1.6"/>
<path d="M481.2 430.11H488.2" stroke="#000" stroke-width="1.6"/>
<path d="M320.5 581.03L323.56 586.39L317.44 586.39Z" fill="#000"/>
<path d="M334.8 580.23L337.86 585.58L331.74 585.58Z" fill="#000"/>
<path d="M350.48 579.42L353.54 584.78L347.42 584.78Z" fill="#000"/>
<path d="M364.78 577.81L367.84 583.17L361.72 583.17Z" fill="#000"/>
<path d="M380.46 577.01L383.52 582.36L377.4 582.36Z" fill="#000"/>
<path d="M394.76 570.57L397.82 575.93L391.7 575.93Z" fill="#000"/>
<path d="M410.44 557.7L413.5 563.06L407.38 563.06Z" fill="#000"/>
<path d="M424.74 511.84L427.8 517.2L421.68 517.2Z" fill="#000"/>
<path d="M440.42 466.31L443.48 471.66L437.36 471.66Z" fill="#000"/>
<path d="M454.72 441.05L457.78 446.4L451.66 446.4Z" fill="#000"/>
<path d="M470.4 424.96L473.46 430.31L467.34 430.31Z" fill="#000"/>
<path d="M484.7 422.22L487.76 427.58L481.64 427.58Z" fill="#000"/>
<path d="M320.5 584.09 L334.8 583.29 L350.48 582.48 L364.78 581.68 L380.46 580.87 L394.76 576.05 L410.44 566.39 L424.74 539.2 L440.42 500.42 L454.72 469.37 L470.4 449.74 L484.7 442.5" stroke="#000" stroke-width="1.7" fill="none" stroke-linejoin="round"/>
<path d="M364.78 580.07V583.29" stroke="#000" stroke-width="1.6"/>
<path d="M361.28 580.07H368.28" stroke="#000" stroke-width="1.6"/>
<path d="M361.28 583.29H368.28" stroke="#000" stroke-width="1.6"/>
<path d="M380.46 578.46V583.29" stroke="#000" stroke-width="1.6"/>
<path d="M376.96 578.46H383.96" stroke="#000" stroke-width="1.6"/>
<path d="M376.96 583.29H383.96" stroke="#000" stroke-width="1.6"/>
<path d="M394.76 573.63V578.46" stroke="#000" stroke-width="1.6"/>
<path d="M391.26 573.63H398.26" stroke="#000" stroke-width="1.6"/>
<path d="M391.26 578.46H398.26" stroke="#000" stroke-width="1.6"/>
<path d="M410.44 563.17V569.61" stroke="#000" stroke-width="1.6"/>
<path d="M406.94 563.17H413.94" stroke="#000" stroke-width="1.6"/>
<path d="M406.94 569.61H413.94" stroke="#000" stroke-width="1.6"/>
<path d="M424.74 534.37V544.03" stroke="#000" stroke-width="1.6"/>
<path d="M421.24 534.37H428.24" stroke="#000" stroke-width="1.6"/>
<path d="M421.24 544.03H428.24" stroke="#000" stroke-width="1.6"/>
<path d="M440.42 494.79V506.05" stroke="#000" stroke-width="1.6"/>
<path d="M436.92 494.79H443.92" stroke="#000" stroke-width="1.6"/>
<path d="M436.92 506.05H443.92" stroke="#000" stroke-width="1.6"/>
<path d="M454.72 462.93V475.81" stroke="#000" stroke-width="1.6"/>
<path d="M451.22 462.93H458.22" stroke="#000" stroke-width="1.6"/>
<path d="M451.22 475.81H458.22" stroke="#000" stroke-width="1.6"/>
<path d="M470.4 441.69V457.78" stroke="#000" stroke-width="1.6"/>
<path d="M466.9 441.69H473.9" stroke="#000" stroke-width="1.6"/>
<path d="M466.9 457.78H473.9" stroke="#000" stroke-width="1.6"/>
<path d="M484.7 435.26V449.74" stroke="#000" stroke-width="1.6"/>
<path d="M481.2 435.26H488.2" stroke="#000" stroke-width="1.6"/>
<path d="M481.2 449.74H488.2" stroke="#000" stroke-width="1.6"/>
<path d="M320.5 580.76L323.66 584.09L320.5 587.42L317.34 584.09Z" fill="#000"/>
<path d="M334.8 579.96L337.97 583.29L334.8 586.62L331.64 583.29Z" fill="#000"/>
<path d="M350.48 579.15L353.64 582.48L350.48 585.81L347.32 582.48Z" fill="#000"/>
<path d="M364.78 578.35L367.95 581.68L364.78 585.01L361.62 581.68Z" fill="#000"/>
<path d="M380.46 577.54L383.62 580.87L380.46 584.2L377.3 580.87Z" fill="#000"/>
<path d="M394.76 572.72L397.93 576.05L394.76 579.38L391.6 576.05Z" fill="#000"/>
<path d="M410.44 563.06L413.6 566.39L410.44 569.72L407.28 566.39Z" fill="#000"/>
<path d="M424.74 535.87L427.91 539.2L424.74 542.53L421.58 539.2Z" fill="#000"/>
<path d="M440.42 497.09L443.58 500.42L440.42 503.75L437.26 500.42Z" fill="#000"/>
<path d="M454.72 466.04L457.89 469.37L454.72 472.7L451.56 469.37Z" fill="#000"/>
<path d="M470.4 446.41L473.56 449.74L470.4 453.07L467.24 449.74Z" fill="#000"/>
<path d="M484.7 439.17L487.87 442.5L484.7 445.83L481.54 442.5Z" fill="#000"/>
<path d="M315.2 346.8H329" stroke="#000" stroke-width="2"/>
<circle cx="322.1" cy="346.8" r="2.48" fill="#fff" stroke="#000" stroke-width="1.44"/>
<text x="0" y="0" font-size="11" fill="#111" transform="translate(334.3 350.5) scale(1.08 1)">Solvent</text>
<path d="M315.2 361.2H329" stroke="#000" stroke-width="2"/>
<circle cx="322.1" cy="361.2" r="2.79" fill="#000"/>
<text x="0" y="0" font-size="11" fill="#111" transform="translate(334.3 364.9) scale(1.08 1)">BUP 1 μmol/L</text>
<path d="M315.2 375.6H329" stroke="#000" stroke-width="2"/>
<rect x="319.4" y="372.9" width="5.4" height="5.4" fill="#000"/>
<text x="0" y="0" font-size="11" fill="#111" transform="translate(334.3 379.3) scale(1.08 1)">BUP 3 μmol/L</text>
<path d="M315.2 390H329" stroke="#000" stroke-width="2"/>
<path d="M322.1 386.94L325.16 392.3L319.04 392.3Z" fill="#000"/>
<text x="0" y="0" font-size="11" fill="#111" transform="translate(334.3 393.7) scale(1.08 1)">BUP 10 μmol/L</text>
<path d="M315.2 404.4H329" stroke="#000" stroke-width="2"/>
<path d="M322.1 401.07L325.26 404.4L322.1 407.73L318.94 404.4Z" fill="#000"/>
<text x="0" y="0" font-size="11" fill="#111" transform="translate(334.3 408.1) scale(1.08 1)">BUP 300 μmol/L</text>
<text x="425.3" y="551.8" font-size="10.8" text-anchor="middle" fill="#111" >c</text>
<text x="410.9" y="578.4" font-size="10.8" text-anchor="middle" fill="#111" >c</text>
<text x="441" y="482.9" font-size="10.8" text-anchor="middle" fill="#111" >c</text>
<text x="455.4" y="458.5" font-size="10.8" text-anchor="middle" fill="#111" >c</text>
<text x="471.1" y="442.6" font-size="10.8" text-anchor="middle" fill="#111" >c</text>
<text x="485.5" y="435" font-size="10.8" text-anchor="middle" fill="#111" >c</text>
<text x="441" y="516.7" font-size="10.8" text-anchor="middle" fill="#111" >c</text>
<text x="455.4" y="484.8" font-size="10.8" text-anchor="middle" fill="#111" >c</text>
<text x="471.1" y="467.6" font-size="10.8" text-anchor="middle" fill="#111" >c</text>
<text x="485.5" y="459" font-size="10.8" text-anchor="middle" fill="#111" >c</text>
<path d="M589.85 583.29 L604.2 582.48 L619.93 581.68 L634.28 579.26 L650.01 573.63 L664.36 563.98 L680.09 539.04 L694.44 485.14 L710.17 441.94 L724.52 415.31 L740.25 400.26 L754.6 397.77" stroke="#000" stroke-width="1.7" fill="none" stroke-linejoin="round"/>
<path d="M634.28 577.65V579.26" stroke="#000" stroke-width="1.6"/>
<path d="M630.78 577.65H637.78" stroke="#000" stroke-width="1.6"/>
<path d="M650.01 571.22V573.63" stroke="#000" stroke-width="1.6"/>
<path d="M646.51 571.22H653.51" stroke="#000" stroke-width="1.6"/>
<path d="M664.36 559.96V563.98" stroke="#000" stroke-width="1.6"/>
<path d="M660.86 559.96H667.86" stroke="#000" stroke-width="1.6"/>
<path d="M680.09 533.41V539.04" stroke="#000" stroke-width="1.6"/>
<path d="M676.59 533.41H683.59" stroke="#000" stroke-width="1.6"/>
<path d="M694.44 477.09V485.14" stroke="#000" stroke-width="1.6"/>
<path d="M690.94 477.09H697.94" stroke="#000" stroke-width="1.6"/>
<path d="M710.17 432.28V441.94" stroke="#000" stroke-width="1.6"/>
<path d="M706.67 432.28H713.67" stroke="#000" stroke-width="1.6"/>
<path d="M724.52 404.04V415.31" stroke="#000" stroke-width="1.6"/>
<path d="M721.02 404.04H728.02" stroke="#000" stroke-width="1.6"/>
<path d="M740.25 390.61V400.26" stroke="#000" stroke-width="1.6"/>
<path d="M736.75 390.61H743.75" stroke="#000" stroke-width="1.6"/>
<path d="M754.6 388.11V397.77" stroke="#000" stroke-width="1.6"/>
<path d="M751.1 388.11H758.1" stroke="#000" stroke-width="1.6"/>
<circle cx="589.85" cy="583.29" r="2.48" fill="#fff" stroke="#000" stroke-width="1.44"/>
<circle cx="604.2" cy="582.48" r="2.48" fill="#fff" stroke="#000" stroke-width="1.44"/>
<circle cx="619.93" cy="581.68" r="2.48" fill="#fff" stroke="#000" stroke-width="1.44"/>
<circle cx="634.28" cy="579.26" r="2.48" fill="#fff" stroke="#000" stroke-width="1.44"/>
<circle cx="650.01" cy="573.63" r="2.48" fill="#fff" stroke="#000" stroke-width="1.44"/>
<circle cx="664.36" cy="563.98" r="2.48" fill="#fff" stroke="#000" stroke-width="1.44"/>
<circle cx="680.09" cy="539.04" r="2.48" fill="#fff" stroke="#000" stroke-width="1.44"/>
<circle cx="694.44" cy="485.14" r="2.48" fill="#fff" stroke="#000" stroke-width="1.44"/>
<circle cx="710.17" cy="441.94" r="2.48" fill="#fff" stroke="#000" stroke-width="1.44"/>
<circle cx="724.52" cy="415.31" r="2.48" fill="#fff" stroke="#000" stroke-width="1.44"/>
<circle cx="740.25" cy="400.26" r="2.48" fill="#fff" stroke="#000" stroke-width="1.44"/>
<circle cx="754.6" cy="397.77" r="2.48" fill="#fff" stroke="#000" stroke-width="1.44"/>
<path d="M589.85 583.29 L604.2 582.48 L619.93 581.68 L634.28 579.26 L650.01 573.63 L664.36 564.78 L680.09 541.45 L694.44 486.99 L710.17 448.53 L724.52 424.8 L740.25 406.3 L754.6 399.06" stroke="#000" stroke-width="1.7" fill="none" stroke-linejoin="round"/>
<circle cx="589.85" cy="583.29" r="2.79" fill="#000"/>
<circle cx="604.2" cy="582.48" r="2.79" fill="#000"/>
<circle cx="619.93" cy="581.68" r="2.79" fill="#000"/>
<circle cx="634.28" cy="579.26" r="2.79" fill="#000"/>
<circle cx="650.01" cy="573.63" r="2.79" fill="#000"/>
<circle cx="664.36" cy="564.78" r="2.79" fill="#000"/>
<circle cx="680.09" cy="541.45" r="2.79" fill="#000"/>
<circle cx="694.44" cy="486.99" r="2.79" fill="#000"/>
<circle cx="710.17" cy="448.53" r="2.79" fill="#000"/>
<circle cx="724.52" cy="424.8" r="2.79" fill="#000"/>
<circle cx="740.25" cy="406.3" r="2.79" fill="#000"/>
<circle cx="754.6" cy="399.06" r="2.79" fill="#000"/>
<path d="M589.85 583.29 L604.2 582.48 L619.93 581.68 L634.28 579.26 L650.01 574.44 L664.36 565.59 L680.09 545.48 L694.44 490.77 L710.17 461.81 L724.52 430.67 L740.25 415.63 L754.6 411.12" stroke="#000" stroke-width="1.7" fill="none" stroke-linejoin="round"/>
<path d="M634.28 579.26V580.87" stroke="#000" stroke-width="1.6"/>
<path d="M630.78 580.87H637.78" stroke="#000" stroke-width="1.6"/>
<path d="M650.01 574.44V576.85" stroke="#000" stroke-width="1.6"/>
<path d="M646.51 576.85H653.51" stroke="#000" stroke-width="1.6"/>
<path d="M664.36 565.59V569.61" stroke="#000" stroke-width="1.6"/>
<path d="M660.86 569.61H667.86" stroke="#000" stroke-width="1.6"/>
<path d="M680.09 545.48V551.11" stroke="#000" stroke-width="1.6"/>
<path d="M676.59 551.11H683.59" stroke="#000" stroke-width="1.6"/>
<path d="M694.44 490.77V498.81" stroke="#000" stroke-width="1.6"/>
<path d="M690.94 498.81H697.94" stroke="#000" stroke-width="1.6"/>
<path d="M710.17 461.81V470.66" stroke="#000" stroke-width="1.6"/>
<path d="M706.67 470.66H713.67" stroke="#000" stroke-width="1.6"/>
<path d="M724.52 430.67V439.52" stroke="#000" stroke-width="1.6"/>
<path d="M721.02 439.52H728.02" stroke="#000" stroke-width="1.6"/>
<path d="M740.25 415.63V425.28" stroke="#000" stroke-width="1.6"/>
<path d="M736.75 425.28H743.75" stroke="#000" stroke-width="1.6"/>
<path d="M754.6 411.12V420.78" stroke="#000" stroke-width="1.6"/>
<path d="M751.1 420.78H758.1" stroke="#000" stroke-width="1.6"/>
<rect x="587.15" y="580.59" width="5.4" height="5.4" fill="#000"/>
<rect x="601.5" y="579.78" width="5.4" height="5.4" fill="#000"/>
<rect x="617.23" y="578.98" width="5.4" height="5.4" fill="#000"/>
<rect x="631.58" y="576.56" width="5.4" height="5.4" fill="#000"/>
<rect x="647.31" y="571.74" width="5.4" height="5.4" fill="#000"/>
<rect x="661.66" y="562.89" width="5.4" height="5.4" fill="#000"/>
<rect x="677.39" y="542.77" width="5.4" height="5.4" fill="#000"/>
<rect x="691.74" y="488.07" width="5.4" height="5.4" fill="#000"/>
<rect x="707.47" y="459.11" width="5.4" height="5.4" fill="#000"/>
<rect x="721.82" y="427.97" width="5.4" height="5.4" fill="#000"/>
<rect x="737.55" y="412.93" width="5.4" height="5.4" fill="#000"/>
<rect x="751.9" y="408.42" width="5.4" height="5.4" fill="#000"/>
<path d="M589.85 583.29 L604.2 583.29 L619.93 582.48 L634.28 580.87 L650.01 579.26 L664.36 573.79 L680.09 560.76 L694.44 541.85 L710.17 503.24 L724.52 470.66 L740.25 452.15 L754.6 449.74" stroke="#000" stroke-width="1.7" fill="none" stroke-linejoin="round"/>
<path d="M634.28 579.26V582.48" stroke="#000" stroke-width="1.6"/>
<path d="M630.78 579.26H637.78" stroke="#000" stroke-width="1.6"/>
<path d="M630.78 582.48H637.78" stroke="#000" stroke-width="1.6"/>
<path d="M650.01 576.85V581.68" stroke="#000" stroke-width="1.6"/>
<path d="M646.51 576.85H653.51" stroke="#000" stroke-width="1.6"/>
<path d="M646.51 581.68H653.51" stroke="#000" stroke-width="1.6"/>
<path d="M664.36 570.58V577.01" stroke="#000" stroke-width="1.6"/>
<path d="M660.86 570.58H667.86" stroke="#000" stroke-width="1.6"/>
<path d="M660.86 577.01H667.86" stroke="#000" stroke-width="1.6"/>
<path d="M680.09 556.74V564.78" stroke="#000" stroke-width="1.6"/>
<path d="M676.59 556.74H683.59" stroke="#000" stroke-width="1.6"/>
<path d="M676.59 564.78H683.59" stroke="#000" stroke-width="1.6"/>
<path d="M694.44 533.81V549.9" stroke="#000" stroke-width="1.6"/>
<path d="M690.94 533.81H697.94" stroke="#000" stroke-width="1.6"/>
<path d="M690.94 549.9H697.94" stroke="#000" stroke-width="1.6"/>
<path d="M710.17 493.99V512.49" stroke="#000" stroke-width="1.6"/>
<path d="M706.67 493.99H713.67" stroke="#000" stroke-width="1.6"/>
<path d="M706.67 512.49H713.67" stroke="#000" stroke-width="1.6"/>
<path d="M724.52 461.4V479.91" stroke="#000" stroke-width="1.6"/>
<path d="M721.02 461.4H728.02" stroke="#000" stroke-width="1.6"/>
<path d="M721.02 479.91H728.02" stroke="#000" stroke-width="1.6"/>
<path d="M740.25 442.5V461.81" stroke="#000" stroke-width="1.6"/>
<path d="M736.75 442.5H743.75" stroke="#000" stroke-width="1.6"/>
<path d="M736.75 461.81H743.75" stroke="#000" stroke-width="1.6"/>
<path d="M754.6 440.09V459.39" stroke="#000" stroke-width="1.6"/>
<path d="M751.1 440.09H758.1" stroke="#000" stroke-width="1.6"/>
<path d="M751.1 459.39H758.1" stroke="#000" stroke-width="1.6"/>
<path d="M589.85 580.23L592.91 585.58L586.79 585.58Z" fill="#000"/>
<path d="M604.2 580.23L607.26 585.58L601.14 585.58Z" fill="#000"/>
<path d="M619.93 579.42L622.99 584.78L616.87 584.78Z" fill="#000"/>
<path d="M634.28 577.81L637.34 583.17L631.22 583.17Z" fill="#000"/>
<path d="M650.01 576.2L653.07 581.56L646.95 581.56Z" fill="#000"/>
<path d="M664.36 570.73L667.42 576.09L661.3 576.09Z" fill="#000"/>
<path d="M680.09 557.7L683.15 563.06L677.03 563.06Z" fill="#000"/>
<path d="M694.44 538.79L697.5 544.15L691.38 544.15Z" fill="#000"/>
<path d="M710.17 500.18L713.23 505.53L707.11 505.53Z" fill="#000"/>
<path d="M724.52 467.6L727.58 472.95L721.46 472.95Z" fill="#000"/>
<path d="M740.25 449.09L743.31 454.45L737.19 454.45Z" fill="#000"/>
<path d="M754.6 446.68L757.66 452.03L751.54 452.03Z" fill="#000"/>
<path d="M589.85 584.09 L604.2 583.29 L619.93 582.48 L634.28 581.68 L650.01 580.31 L664.36 579.26 L680.09 572.83 L694.44 559.47 L710.17 543.06 L724.52 524.56 L740.25 515.71 L754.6 510.08" stroke="#000" stroke-width="1.7" fill="none" stroke-linejoin="round"/>
<path d="M634.28 580.07V583.29" stroke="#000" stroke-width="1.6"/>
<path d="M630.78 580.07H637.78" stroke="#000" stroke-width="1.6"/>
<path d="M630.78 583.29H637.78" stroke="#000" stroke-width="1.6"/>
<path d="M650.01 578.7V581.92" stroke="#000" stroke-width="1.6"/>
<path d="M646.51 578.7H653.51" stroke="#000" stroke-width="1.6"/>
<path d="M646.51 581.92H653.51" stroke="#000" stroke-width="1.6"/>
<path d="M664.36 576.85V581.68" stroke="#000" stroke-width="1.6"/>
<path d="M660.86 576.85H667.86" stroke="#000" stroke-width="1.6"/>
<path d="M660.86 581.68H667.86" stroke="#000" stroke-width="1.6"/>
<path d="M680.09 569.61V576.05" stroke="#000" stroke-width="1.6"/>
<path d="M676.59 569.61H683.59" stroke="#000" stroke-width="1.6"/>
<path d="M676.59 576.05H683.59" stroke="#000" stroke-width="1.6"/>
<path d="M694.44 556.26V562.69" stroke="#000" stroke-width="1.6"/>
<path d="M690.94 556.26H697.94" stroke="#000" stroke-width="1.6"/>
<path d="M690.94 562.69H697.94" stroke="#000" stroke-width="1.6"/>
<path d="M710.17 535.02V551.11" stroke="#000" stroke-width="1.6"/>
<path d="M706.67 535.02H713.67" stroke="#000" stroke-width="1.6"/>
<path d="M706.67 551.11H713.67" stroke="#000" stroke-width="1.6"/>
<path d="M724.52 514.1V535.02" stroke="#000" stroke-width="1.6"/>
<path d="M721.02 514.1H728.02" stroke="#000" stroke-width="1.6"/>
<path d="M721.02 535.02H728.02" stroke="#000" stroke-width="1.6"/>
<path d="M740.25 503.64V527.78" stroke="#000" stroke-width="1.6"/>
<path d="M736.75 503.64H743.75" stroke="#000" stroke-width="1.6"/>
<path d="M736.75 527.78H743.75" stroke="#000" stroke-width="1.6"/>
<path d="M754.6 498.81V521.34" stroke="#000" stroke-width="1.6"/>
<path d="M751.1 498.81H758.1" stroke="#000" stroke-width="1.6"/>
<path d="M751.1 521.34H758.1" stroke="#000" stroke-width="1.6"/>
<path d="M589.85 580.76L593.01 584.09L589.85 587.42L586.69 584.09Z" fill="#000"/>
<path d="M604.2 579.96L607.37 583.29L604.2 586.62L601.04 583.29Z" fill="#000"/>
<path d="M619.93 579.15L623.09 582.48L619.93 585.81L616.77 582.48Z" fill="#000"/>
<path d="M634.28 578.35L637.45 581.68L634.28 585.01L631.12 581.68Z" fill="#000"/>
<path d="M650.01 576.98L653.17 580.31L650.01 583.64L646.85 580.31Z" fill="#000"/>
<path d="M664.36 575.93L667.53 579.26L664.36 582.59L661.2 579.26Z" fill="#000"/>
<path d="M680.09 569.5L683.25 572.83L680.09 576.16L676.93 572.83Z" fill="#000"/>
<path d="M694.44 556.14L697.61 559.47L694.44 562.8L691.28 559.47Z" fill="#000"/>
<path d="M710.17 539.73L713.33 543.06L710.17 546.39L707.01 543.06Z" fill="#000"/>
<path d="M724.52 521.23L727.69 524.56L724.52 527.89L721.36 524.56Z" fill="#000"/>
<path d="M740.25 512.38L743.41 515.71L740.25 519.04L737.09 515.71Z" fill="#000"/>
<path d="M754.6 506.75L757.77 510.08L754.6 513.41L751.44 510.08Z" fill="#000"/>
<path d="M589.2 346.8H603" stroke="#000" stroke-width="2"/>
<circle cx="596.1" cy="346.8" r="2.48" fill="#fff" stroke="#000" stroke-width="1.44"/>
<text x="0" y="0" font-size="11" fill="#111" transform="translate(608.5 350.5) scale(1.08 1)">Solvent</text>
<path d="M589.2 361.2H603" stroke="#000" stroke-width="2"/>
<circle cx="596.1" cy="361.2" r="2.79" fill="#000"/>
<text x="0" y="0" font-size="11" fill="#111" transform="translate(608.5 364.9) scale(1.08 1)">BUP 1 μmol/L</text>
<path d="M589.2 375.6H603" stroke="#000" stroke-width="2"/>
<rect x="593.4" y="372.9" width="5.4" height="5.4" fill="#000"/>
<text x="0" y="0" font-size="11" fill="#111" transform="translate(608.5 379.3) scale(1.08 1)">BUP 3 μmol/L</text>
<path d="M589.2 390H603" stroke="#000" stroke-width="2"/>
<path d="M596.1 386.94L599.16 392.3L593.04 392.3Z" fill="#000"/>
<text x="0" y="0" font-size="11" fill="#111" transform="translate(608.5 393.7) scale(1.08 1)">BUP 10 μmol/L</text>
<path d="M589.2 404.4H603" stroke="#000" stroke-width="2"/>
<path d="M596.1 401.07L599.26 404.4L596.1 407.73L592.94 404.4Z" fill="#000"/>
<text x="0" y="0" font-size="11" fill="#111" transform="translate(608.5 408.1) scale(1.08 1)">BUP 300 μmol/L</text>
<text x="0" y="0" font-size="11" fill="#111" transform="translate(608.5 422.5) scale(1.08 1)">washout</text>
<text x="710" y="520.5" font-size="10.8" text-anchor="middle" fill="#111" >c</text>
<text x="724.4" y="489" font-size="10.8" text-anchor="middle" fill="#111" >c</text>
<text x="740.1" y="471" font-size="10.8" text-anchor="middle" fill="#111" >c</text>
<text x="754.5" y="469.3" font-size="10.8" text-anchor="middle" fill="#111" >c</text>
<text x="679.9" y="584.3" font-size="10.8" text-anchor="middle" fill="#111" >c</text>
<text x="694.3" y="573.2" font-size="10.8" text-anchor="middle" fill="#111" >c</text>
<text x="710" y="561" font-size="10.8" text-anchor="middle" fill="#111" >c</text>
<text x="724.4" y="545.7" font-size="10.8" text-anchor="middle" fill="#111" >c</text>
<text x="740.1" y="537" font-size="10.8" text-anchor="middle" fill="#111" >c</text>
<text x="754.5" y="530.3" font-size="10.8" text-anchor="middle" fill="#111" >c</text>
<text x="411" y="635.3" font-size="11.6" text-anchor="middle" fill="#111" >Phenylephrine (μmol/L)</text>
</svg>
</body></html>
